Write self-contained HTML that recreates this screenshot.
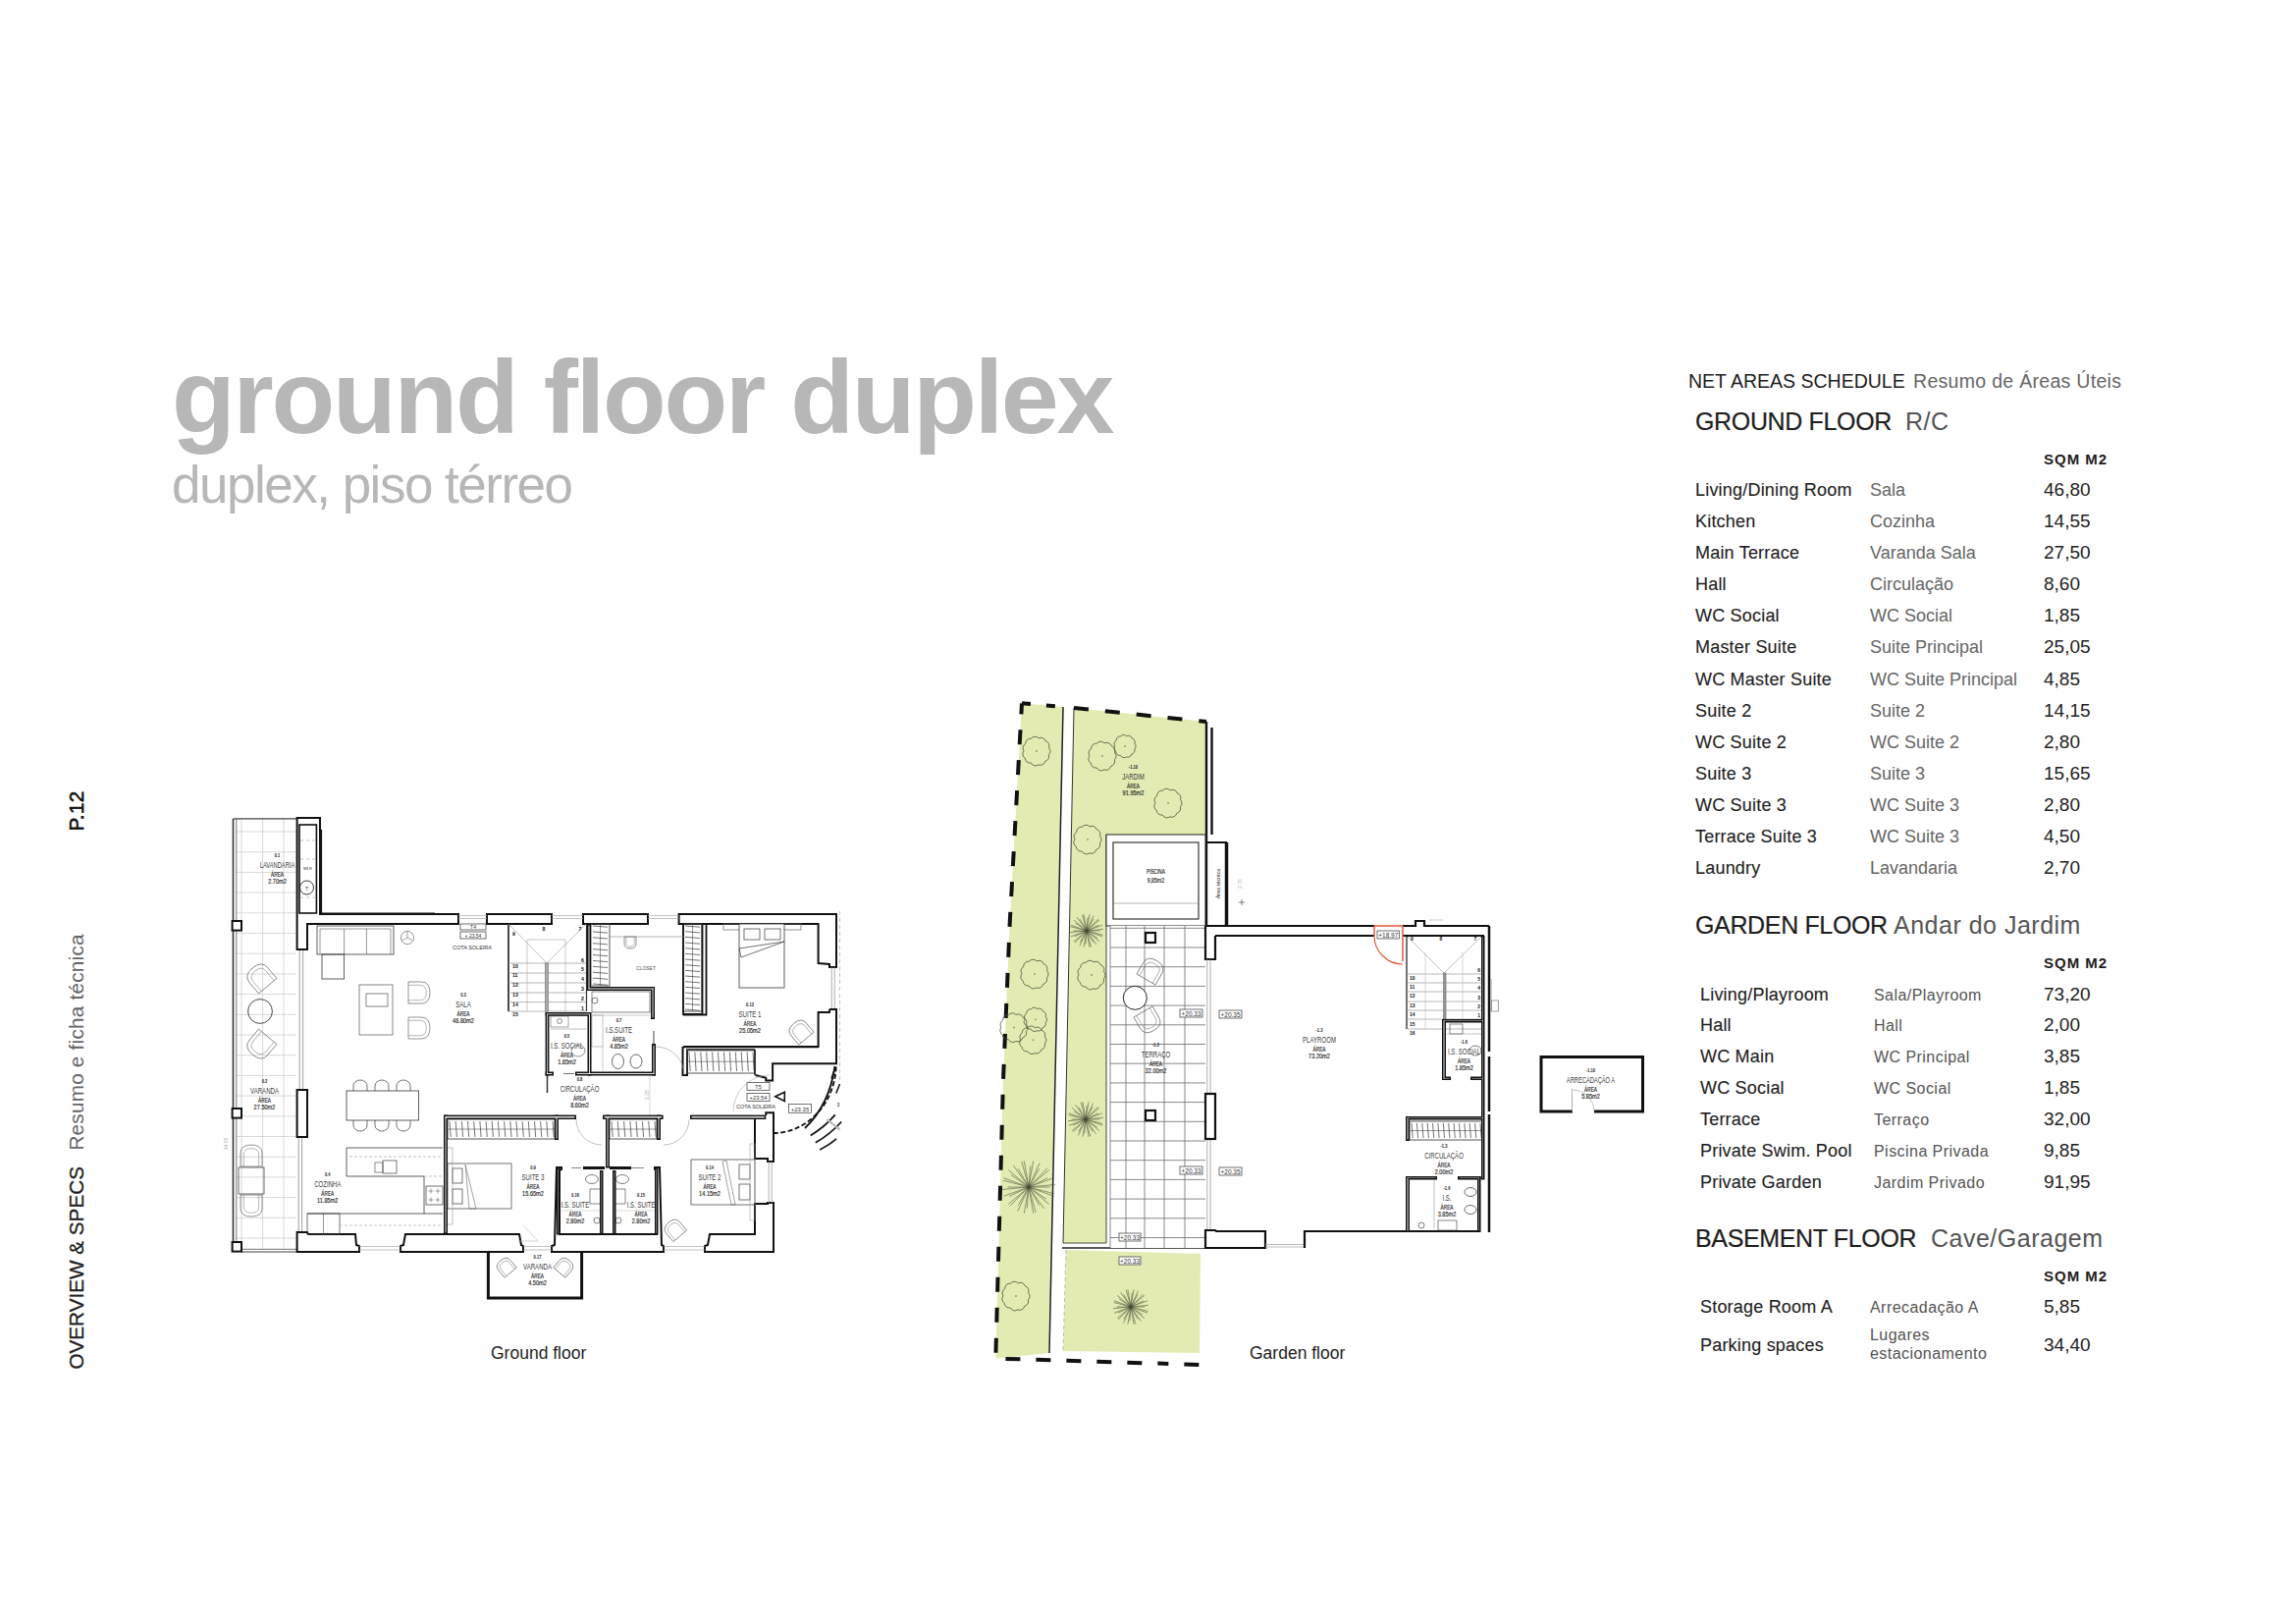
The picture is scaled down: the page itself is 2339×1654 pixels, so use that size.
<!DOCTYPE html>
<html><head><meta charset="utf-8">
<style>
html,body{margin:0;padding:0;background:#fff;width:2339px;height:1654px;overflow:hidden}
svg{position:absolute;left:0;top:0;display:block}
text{font-family:"Liberation Sans",sans-serif}
.en{fill:#1e1e1e;font-size:18px;letter-spacing:0.2px;stroke:#1e1e1e;stroke-width:0.12px}
.pt{fill:#666;font-size:18px}
.ptg{fill:#555;font-size:16px;letter-spacing:0.45px}
.num{fill:#222;font-size:19px}
.sqm{fill:#1e1e1e;font-size:15px;font-weight:bold}
.hd{fill:#1e1e1e;font-size:25px;letter-spacing:-0.35px;stroke:#1e1e1e;stroke-width:0.2px}
.hdp{fill:#555;font-size:25px;letter-spacing:0.5px}
</style></head>
<body>
<svg width="2339" height="1654" viewBox="0 0 2339 1654">
<text x="175" y="441" font-size="106" font-weight="bold" fill="#b7b7b7" letter-spacing="-2.25">ground floor duplex</text>
<text x="175" y="512" font-size="53" fill="#b7b7b7" letter-spacing="-1.5">duplex, piso térreo</text>
<g transform="translate(84.6,1394.6) rotate(-90)">
<text x="0" y="0" font-size="20.7" fill="#1e1e1e" stroke="#1e1e1e" stroke-width="0.3">OVERVIEW &amp; SPECS</text>
<text x="223" y="0" font-size="20.7" fill="#666" letter-spacing="0.24">Resumo e ficha técnica</text>
<text x="548" y="0" font-size="20.7" fill="#111" stroke="#111" stroke-width="0.6" letter-spacing="0.3">P.12</text>
</g>
<text x="500" y="1384" font-size="17.5" fill="#1e1e1e">Ground floor</text>
<text x="1273" y="1384" font-size="17.5" fill="#1e1e1e">Garden floor</text>
<text x="1720" y="395" font-size="19.5" fill="#1e1e1e">NET AREAS SCHEDULE</text>
<text x="1949" y="395" font-size="19.5" fill="#666" letter-spacing="0.3">Resumo de Áreas Úteis</text>
<text x="1727" y="437.7" class="hd">GROUND FLOOR</text>
<text x="1941" y="437.7" class="hdp" letter-spacing="1.5">R/C</text>
<text x="2082" y="473" class="sqm" letter-spacing="1.0">SQM M2</text>
<text x="1727" y="505.0" class="en">Living/Dining Room</text>
<text x="1905" y="505.0" class="pt">Sala</text>
<text x="2082" y="505.0" class="num">46,80</text>
<text x="1727" y="537.1" class="en">Kitchen</text>
<text x="1905" y="537.1" class="pt">Cozinha</text>
<text x="2082" y="537.1" class="num">14,55</text>
<text x="1727" y="569.2" class="en">Main Terrace</text>
<text x="1905" y="569.2" class="pt">Varanda Sala</text>
<text x="2082" y="569.2" class="num">27,50</text>
<text x="1727" y="601.2" class="en">Hall</text>
<text x="1905" y="601.2" class="pt">Circulação</text>
<text x="2082" y="601.2" class="num">8,60</text>
<text x="1727" y="633.3" class="en">WC Social</text>
<text x="1905" y="633.3" class="pt">WC Social</text>
<text x="2082" y="633.3" class="num">1,85</text>
<text x="1727" y="665.4" class="en">Master Suite</text>
<text x="1905" y="665.4" class="pt">Suite Principal</text>
<text x="2082" y="665.4" class="num">25,05</text>
<text x="1727" y="697.5" class="en">WC Master Suite</text>
<text x="1905" y="697.5" class="pt">WC Suite Principal</text>
<text x="2082" y="697.5" class="num">4,85</text>
<text x="1727" y="729.6" class="en">Suite 2</text>
<text x="1905" y="729.6" class="pt">Suite 2</text>
<text x="2082" y="729.6" class="num">14,15</text>
<text x="1727" y="761.6" class="en">WC Suite 2</text>
<text x="1905" y="761.6" class="pt">WC Suite 2</text>
<text x="2082" y="761.6" class="num">2,80</text>
<text x="1727" y="793.7" class="en">Suite 3</text>
<text x="1905" y="793.7" class="pt">Suite 3</text>
<text x="2082" y="793.7" class="num">15,65</text>
<text x="1727" y="825.8" class="en">WC Suite 3</text>
<text x="1905" y="825.8" class="pt">WC Suite 3</text>
<text x="2082" y="825.8" class="num">2,80</text>
<text x="1727" y="857.9" class="en">Terrace Suite 3</text>
<text x="1905" y="857.9" class="pt">WC Suite 3</text>
<text x="2082" y="857.9" class="num">4,50</text>
<text x="1727" y="890.0" class="en">Laundry</text>
<text x="1905" y="890.0" class="pt">Lavandaria</text>
<text x="2082" y="890.0" class="num">2,70</text>
<text x="1727" y="950.8" class="hd">GARDEN FLOOR</text>
<text x="1929" y="950.8" class="hdp">Andar do Jardim</text>
<text x="2082" y="986" class="sqm" letter-spacing="1.0">SQM M2</text>
<text x="1732" y="1018.5" class="en">Living/Playroom</text>
<text x="1909" y="1018.5" class="ptg">Sala/Playroom</text>
<text x="2082" y="1018.5" class="num">73,20</text>
<text x="1732" y="1050.4" class="en">Hall</text>
<text x="1909" y="1050.4" class="ptg">Hall</text>
<text x="2082" y="1050.4" class="num">2,00</text>
<text x="1732" y="1082.2" class="en">WC Main</text>
<text x="1909" y="1082.2" class="ptg">WC Principal</text>
<text x="2082" y="1082.2" class="num">3,85</text>
<text x="1732" y="1114.1" class="en">WC Social</text>
<text x="1909" y="1114.1" class="ptg">WC Social</text>
<text x="2082" y="1114.1" class="num">1,85</text>
<text x="1732" y="1146.0" class="en">Terrace</text>
<text x="1909" y="1146.0" class="ptg">Terraço</text>
<text x="2082" y="1146.0" class="num">32,00</text>
<text x="1732" y="1177.8" class="en">Private Swim. Pool</text>
<text x="1909" y="1177.8" class="ptg">Piscina Privada</text>
<text x="2082" y="1177.8" class="num">9,85</text>
<text x="1732" y="1209.7" class="en">Private Garden</text>
<text x="1909" y="1209.7" class="ptg">Jardim Privado</text>
<text x="2082" y="1209.7" class="num">91,95</text>
<text x="1727" y="1269.5" class="hd">BASEMENT FLOOR</text>
<text x="1967" y="1269.5" class="hdp">Cave/Garagem</text>
<text x="2082" y="1305" class="sqm" letter-spacing="1.0">SQM M2</text>
<text x="1732" y="1337" class="en">Storage Room A</text>
<text x="1905" y="1337" class="ptg">Arrecadação A</text>
<text x="2082" y="1337" class="num">5,85</text>
<text x="1732" y="1376" class="en">Parking spaces</text>
<text x="1905" y="1365" class="ptg">Lugares</text>
<text x="1905" y="1384" class="ptg">estacionamento</text>
<text x="2082" y="1376" class="num">34,40</text>
<g id="plans">
<path d="M246,834 V1272" stroke="#c9c9c9" stroke-width="0.7" fill="none" />
<path d="M267.6,834 V1272" stroke="#c9c9c9" stroke-width="0.7" fill="none" />
<path d="M289,834 V1272" stroke="#c9c9c9" stroke-width="0.7" fill="none" />
<path d="M241,847.0 H302" stroke="#c9c9c9" stroke-width="0.7" fill="none" />
<path d="M241,867.7 H302" stroke="#c9c9c9" stroke-width="0.7" fill="none" />
<path d="M241,888.4 H302" stroke="#c9c9c9" stroke-width="0.7" fill="none" />
<path d="M241,909.1 H302" stroke="#c9c9c9" stroke-width="0.7" fill="none" />
<path d="M241,929.8 H302" stroke="#c9c9c9" stroke-width="0.7" fill="none" />
<path d="M241,950.5 H302" stroke="#c9c9c9" stroke-width="0.7" fill="none" />
<path d="M241,971.2 H302" stroke="#c9c9c9" stroke-width="0.7" fill="none" />
<path d="M241,991.9 H302" stroke="#c9c9c9" stroke-width="0.7" fill="none" />
<path d="M241,1012.6 H302" stroke="#c9c9c9" stroke-width="0.7" fill="none" />
<path d="M241,1033.3 H302" stroke="#c9c9c9" stroke-width="0.7" fill="none" />
<path d="M241,1054.0 H302" stroke="#c9c9c9" stroke-width="0.7" fill="none" />
<path d="M241,1074.7 H302" stroke="#c9c9c9" stroke-width="0.7" fill="none" />
<path d="M241,1095.4 H302" stroke="#c9c9c9" stroke-width="0.7" fill="none" />
<path d="M241,1116.1 H302" stroke="#c9c9c9" stroke-width="0.7" fill="none" />
<path d="M241,1136.8 H302" stroke="#c9c9c9" stroke-width="0.7" fill="none" />
<path d="M241,1157.5 H302" stroke="#c9c9c9" stroke-width="0.7" fill="none" />
<path d="M241,1178.2 H302" stroke="#c9c9c9" stroke-width="0.7" fill="none" />
<path d="M241,1198.9 H302" stroke="#c9c9c9" stroke-width="0.7" fill="none" />
<path d="M241,1219.6 H302" stroke="#c9c9c9" stroke-width="0.7" fill="none" />
<path d="M241,1240.3 H302" stroke="#c9c9c9" stroke-width="0.7" fill="none" />
<path d="M241,1261.0 H302" stroke="#c9c9c9" stroke-width="0.7" fill="none" />
<path d="M237.5,834 V1275" stroke="#333" stroke-width="1.6" fill="none" />
<path d="M240.8,834 V1272" stroke="#505050" stroke-width="0.8" fill="none" />
<path d="M237.5,833.8 H302.6" stroke="#444" stroke-width="1.3" fill="none" />
<path d="M246,1272.3 H302.6" stroke="#505050" stroke-width="0.8" fill="none" />
<path d="M246,1275 H302.6" stroke="#444" stroke-width="1.2" fill="none" />
<rect x="236.6" y="938" width="9.4" height="9.6" stroke="#111" stroke-width="2" fill="#fff" />
<rect x="236.6" y="1129" width="9.4" height="9.6" stroke="#111" stroke-width="2" fill="#fff" />
<rect x="236.6" y="1265" width="9.4" height="9.6" stroke="#111" stroke-width="2" fill="#fff" />
<path d="M305.2,967 V1110 M308.6,967 V1110 M304.2,1158 V1255 M307.6,1158 V1255" stroke="#888" stroke-width="0.8" fill="none" />
<path d="M302.6,833 H326 V931 H467 V941 H313 V967 H302.6 Z" stroke="#111" stroke-width="2.0" fill="#fff" />
<rect x="305" y="840" width="17.4" height="90" stroke="#111" stroke-width="1.6" fill="none" />
<path d="M326.9,845 V931" stroke="#111" stroke-width="2.4" fill="none" />
<path d="M326,930.6 H443" stroke="#111" stroke-width="2.2" fill="none" />
<path d="M306,856 H321" stroke="#999" stroke-width="0.6" fill="none" stroke-dasharray="3,3"/>
<path d="M306,875 H321" stroke="#999" stroke-width="0.6" fill="none" stroke-dasharray="3,3"/>
<path d="M306,914 H321" stroke="#999" stroke-width="0.6" fill="none" stroke-dasharray="3,3"/>
<circle cx="312.5" cy="904" r="7" stroke="#222" stroke-width="0.9" fill="none" />
<text x="312.5" y="906.5" font-size="5" fill="#222" text-anchor="middle" >T</text>
<text x="313.5" y="886" font-size="4" fill="#222" text-anchor="middle" >WLR</text>
<rect x="496" y="931" width="66" height="10" stroke="#111" stroke-width="2.0" fill="#fff" />
<rect x="594" y="931" width="66" height="10" stroke="#111" stroke-width="2.0" fill="#fff" />
<path d="M691.6,931 H852 V985 H845 V982 L833.6,981 V941 H691.6 Z" stroke="#111" stroke-width="2.0" fill="#fff" />
<path d="M467,932.5 H496 M467,935.5 H496" stroke="#aaa" stroke-width="0.7" fill="none" />
<path d="M562,932.5 H594 M562,935.5 H594" stroke="#aaa" stroke-width="0.7" fill="none" />
<path d="M660,932.5 H691.6 M660,935.5 H691.6" stroke="#aaa" stroke-width="0.7" fill="none" />
<rect x="602" y="941" width="19" height="63" stroke="#444" stroke-width="0.9" fill="none" />
<path d="M611.5,941 V1004" stroke="#505050" stroke-width="0.6" fill="none" />
<path d="M604,943.0 L619,944.2" stroke="#383838" stroke-width="0.7" fill="none" />
<path d="M604,948.9 L619,950.1" stroke="#383838" stroke-width="0.7" fill="none" />
<path d="M604,954.8 L619,956.0" stroke="#383838" stroke-width="0.7" fill="none" />
<path d="M604,960.7 L619,961.9" stroke="#383838" stroke-width="0.7" fill="none" />
<path d="M604,966.6 L619,967.8" stroke="#383838" stroke-width="0.7" fill="none" />
<path d="M604,972.5 L619,973.7" stroke="#383838" stroke-width="0.7" fill="none" />
<path d="M604,978.4 L619,979.6" stroke="#383838" stroke-width="0.7" fill="none" />
<path d="M604,984.3 L619,985.5" stroke="#383838" stroke-width="0.7" fill="none" />
<path d="M604,990.2 L619,991.4" stroke="#383838" stroke-width="0.7" fill="none" />
<path d="M604,996.1 L619,997.3" stroke="#383838" stroke-width="0.7" fill="none" />
<path d="M604,1002.0 L619,1003.2" stroke="#383838" stroke-width="0.7" fill="none" />
<rect x="696" y="941" width="19" height="89" stroke="#444" stroke-width="0.9" fill="none" />
<path d="M705.5,941 V1030" stroke="#505050" stroke-width="0.6" fill="none" />
<path d="M698,943.0 L713,944.2" stroke="#383838" stroke-width="0.7" fill="none" />
<path d="M698,948.7 L713,949.9" stroke="#383838" stroke-width="0.7" fill="none" />
<path d="M698,954.3 L713,955.5" stroke="#383838" stroke-width="0.7" fill="none" />
<path d="M698,960.0 L713,961.2" stroke="#383838" stroke-width="0.7" fill="none" />
<path d="M698,965.7 L713,966.9" stroke="#383838" stroke-width="0.7" fill="none" />
<path d="M698,971.3 L713,972.5" stroke="#383838" stroke-width="0.7" fill="none" />
<path d="M698,977.0 L713,978.2" stroke="#383838" stroke-width="0.7" fill="none" />
<path d="M698,982.7 L713,983.9" stroke="#383838" stroke-width="0.7" fill="none" />
<path d="M698,988.3 L713,989.5" stroke="#383838" stroke-width="0.7" fill="none" />
<path d="M698,994.0 L713,995.2" stroke="#383838" stroke-width="0.7" fill="none" />
<path d="M698,999.7 L713,1000.9" stroke="#383838" stroke-width="0.7" fill="none" />
<path d="M698,1005.3 L713,1006.5" stroke="#383838" stroke-width="0.7" fill="none" />
<path d="M698,1011.0 L713,1012.2" stroke="#383838" stroke-width="0.7" fill="none" />
<path d="M698,1016.7 L713,1017.9" stroke="#383838" stroke-width="0.7" fill="none" />
<path d="M698,1022.3 L713,1023.5" stroke="#383838" stroke-width="0.7" fill="none" />
<path d="M698,1028.0 L713,1029.2" stroke="#383838" stroke-width="0.7" fill="none" />
<path d="M715.5,941 V1033 H696 V941 M719.5,941 V1033.5 H696" stroke="#111" stroke-width="1.8" fill="none" />
<path d="M621,954 H696" stroke="#999" stroke-width="0.7" fill="none" />
<g transform="translate(642,960) rotate(180)">
<path d="M-6.0,6.0 V-1.2000000000000002 Q-6.0,-6.0 0,-6.0 Q6.0,-6.0 6.0,-1.2000000000000002 V6.0 Z" stroke="#666" stroke-width="0.7" fill="none" />
<path d="M-4.199999999999999,6.0 V-0.6000000000000001 Q-4.199999999999999,-3.96 0,-3.96 Q4.199999999999999,-3.96 4.199999999999999,-0.6000000000000001 V6.0" stroke="#888" stroke-width="0.6" fill="none" />
</g>
<text x="658" y="988" font-size="5" fill="#555" text-anchor="middle" >CLOSET</text>
<path d="M666,1050 V1063" stroke="#333" stroke-width="0.9" fill="none" />
<rect x="603" y="1010" width="59" height="21" stroke="#505050" stroke-width="0.7" fill="none" />
<circle cx="606" cy="1019" r="3" stroke="#444" stroke-width="0.7" fill="none" />
<path d="M603,1034 H662" stroke="#aaa" stroke-width="0.6" fill="none" />
<rect x="603" y="1034" width="11" height="32" stroke="#999" stroke-width="0.6" fill="none" />
<path d="M614,1066 V1091" stroke="#aaa" stroke-width="0.6" fill="none" />
<ellipse cx="629.5" cy="1081" rx="6" ry="7.5" fill="none" stroke="#444" stroke-width="0.8"/>
<ellipse cx="648" cy="1081" rx="6" ry="7" fill="none" stroke="#444" stroke-width="0.8"/>
<text transform="translate(630.5 1040.5) scale(0.85 1)" x="0" y="0" font-size="4.8" fill="#222" text-anchor="middle" font-weight="bold">0.7</text>
<text transform="translate(630.5 1052) scale(0.74 1)" x="0" y="0" font-size="8.2" fill="#3a3a3a" text-anchor="middle" >I.S.SUITE</text>
<text transform="translate(630.5 1060.5) scale(0.72 1)" x="0" y="0" font-size="6.6" fill="#222" text-anchor="middle" stroke="#222" stroke-width="0.15">ÁREA</text>
<text transform="translate(630.5 1067.5) scale(0.85 1)" x="0" y="0" font-size="6.6" fill="#222" text-anchor="middle" stroke="#222" stroke-width="0.15">4.85m2</text>
<path d="M557.5,1095 V1113" stroke="#333" stroke-width="1.5" fill="none" />
<path d="M574,1093.5 H585" stroke="#505050" stroke-width="0.8" fill="none" />
<rect x="561" y="1035" width="18" height="11" stroke="#666" stroke-width="0.6" fill="none" />
<circle cx="570" cy="1040" r="2.5" stroke="#444" stroke-width="0.6" fill="none" />
<path d="M561,1048 H598" stroke="#999" stroke-width="0.6" fill="none" />
<ellipse cx="589" cy="1070" rx="7" ry="6" fill="none" stroke="#666" stroke-width="0.7"/>
<text transform="translate(577.5 1056.5) scale(0.85 1)" x="0" y="0" font-size="4.8" fill="#222" text-anchor="middle" font-weight="bold">0.5</text>
<text transform="translate(577.5 1068) scale(0.74 1)" x="0" y="0" font-size="8.2" fill="#3a3a3a" text-anchor="middle" >I.S. SOCIAL</text>
<text transform="translate(577.5 1076.5) scale(0.72 1)" x="0" y="0" font-size="6.6" fill="#222" text-anchor="middle" stroke="#222" stroke-width="0.15">ÁREA</text>
<text transform="translate(577.5 1083.5) scale(0.85 1)" x="0" y="0" font-size="6.6" fill="#222" text-anchor="middle" stroke="#222" stroke-width="0.15">1.85m2</text>
<path d="M518,941 V1030" stroke="#333" stroke-width="1.8" fill="none" />
<path d="M518,981 H597" stroke="#999" stroke-width="0.7" fill="none" />
<path d="M518,991 H597" stroke="#999" stroke-width="0.7" fill="none" />
<path d="M518,1001 H597" stroke="#999" stroke-width="0.7" fill="none" />
<path d="M518,1011 H597" stroke="#999" stroke-width="0.7" fill="none" />
<path d="M518,1020.6 H597" stroke="#999" stroke-width="0.7" fill="none" />
<path d="M518,1030 H597" stroke="#999" stroke-width="0.7" fill="none" />
<path d="M537,957 V1030" stroke="#aaa" stroke-width="0.6" fill="none" />
<path d="M576,957 V1030" stroke="#aaa" stroke-width="0.6" fill="none" />
<path d="M537,957 H576" stroke="#aaa" stroke-width="0.6" fill="none" />
<path d="M518,941 L557,981 L597,941" stroke="#999" stroke-width="0.6" fill="none" />
<rect x="555.5" y="981" width="3.0" height="49" stroke="#666" stroke-width="0.6" fill="#aaa" />
<path d="M597.5,941 V1030" stroke="#333" stroke-width="1.2" fill="none" />
<text x="522" y="985.5" font-size="5.2" fill="#111" text-anchor="start" font-weight="bold">10</text>
<text x="522" y="995.3" font-size="5.2" fill="#111" text-anchor="start" font-weight="bold">11</text>
<text x="522" y="1005.1" font-size="5.2" fill="#111" text-anchor="start" font-weight="bold">12</text>
<text x="522" y="1014.9" font-size="5.2" fill="#111" text-anchor="start" font-weight="bold">13</text>
<text x="522" y="1024.7" font-size="5.2" fill="#111" text-anchor="start" font-weight="bold">14</text>
<text x="522" y="1034.5" font-size="5.2" fill="#111" text-anchor="start" font-weight="bold">15</text>
<text x="595" y="979.5" font-size="5.2" fill="#111" text-anchor="end" font-weight="bold">6</text>
<text x="595" y="989.3" font-size="5.2" fill="#111" text-anchor="end" font-weight="bold">5</text>
<text x="595" y="999.1" font-size="5.2" fill="#111" text-anchor="end" font-weight="bold">4</text>
<text x="595" y="1008.9" font-size="5.2" fill="#111" text-anchor="end" font-weight="bold">3</text>
<text x="595" y="1018.7" font-size="5.2" fill="#111" text-anchor="end" font-weight="bold">2</text>
<text x="595" y="1028.5" font-size="5.2" fill="#111" text-anchor="end" font-weight="bold">1</text>
<text x="522" y="953" font-size="5.2" fill="#111" text-anchor="start" font-weight="bold">9</text>
<text x="554" y="948" font-size="5.2" fill="#111" text-anchor="middle" font-weight="bold">8</text>
<text x="591" y="948" font-size="5.2" fill="#111" text-anchor="middle" font-weight="bold">7</text>
<rect x="469" y="941" width="26" height="6" stroke="#333" stroke-width="0.7" fill="none" />
<text x="482" y="946.3" font-size="5" fill="#333" text-anchor="middle" >T4</text>
<rect x="469" y="949" width="26" height="7" stroke="#333" stroke-width="0.7" fill="none" />
<text x="482" y="955" font-size="5" fill="#333" text-anchor="middle" >+ 23.54</text>
<text x="481" y="967" font-size="5.5" fill="#333" text-anchor="middle" >COTA SOLEIRA</text>
<path d="M847.2,985 V1028 M850.2,985 V1028" stroke="#999" stroke-width="0.8" fill="none" />
<path d="M845,1028 H852 V1083.3 H787.1 V1100.5 H780.3 V1097.8 L769.5,1095" stroke="#111" stroke-width="2.0" fill="none" />
<path d="M845,1028 V1031 H833.6 V1066 H696" stroke="#111" stroke-width="2.0" fill="none" />
<path d="M695.5,1066 V1095 H700 V1069.3 H769" stroke="#111" stroke-width="2" fill="none" />
<path d="M696,1066.3 H833.6" stroke="#111" stroke-width="2" fill="none" />
<path d="M855.5,928 V1100" stroke="#999" stroke-width="0.6" fill="none" stroke-dasharray="4,3"/>
<rect x="700" y="1069.5" width="69" height="23.5" stroke="#444" stroke-width="0.9" fill="none" />
<path d="M700,1081.2 H769" stroke="#505050" stroke-width="0.6" fill="none" />
<path d="M702.0,1071.5 L703.2,1091" stroke="#383838" stroke-width="0.7" fill="none" />
<path d="M707.9,1071.5 L709.1,1091" stroke="#383838" stroke-width="0.7" fill="none" />
<path d="M713.8,1071.5 L715.0,1091" stroke="#383838" stroke-width="0.7" fill="none" />
<path d="M719.7,1071.5 L720.9,1091" stroke="#383838" stroke-width="0.7" fill="none" />
<path d="M725.6,1071.5 L726.8,1091" stroke="#383838" stroke-width="0.7" fill="none" />
<path d="M731.5,1071.5 L732.7,1091" stroke="#383838" stroke-width="0.7" fill="none" />
<path d="M737.5,1071.5 L738.7,1091" stroke="#383838" stroke-width="0.7" fill="none" />
<path d="M743.4,1071.5 L744.6,1091" stroke="#383838" stroke-width="0.7" fill="none" />
<path d="M749.3,1071.5 L750.5,1091" stroke="#383838" stroke-width="0.7" fill="none" />
<path d="M755.2,1071.5 L756.4,1091" stroke="#383838" stroke-width="0.7" fill="none" />
<path d="M761.1,1071.5 L762.3,1091" stroke="#383838" stroke-width="0.7" fill="none" />
<path d="M767.0,1071.5 L768.2,1091" stroke="#383838" stroke-width="0.7" fill="none" />
<path d="M769,1069 V1095" stroke="#111" stroke-width="1.5" fill="none" />
<rect x="737" y="941" width="79" height="6" stroke="#666" stroke-width="0.7" fill="none" />
<rect x="753" y="941" width="46" height="65" stroke="#383838" stroke-width="0.8" fill="#fff" />
<rect x="758" y="946" width="16" height="11" stroke="#383838" stroke-width="0.7" fill="none" />
<rect x="779" y="946" width="16" height="11" stroke="#383838" stroke-width="0.7" fill="none" />
<path d="M753,966 L799,959 M753,966 L755,975 L799,959" stroke="#383838" stroke-width="0.7" fill="none" />
<g transform="translate(815,1050) rotate(-40)">
<path d="M-10.0,10.0 V-2.0 Q-10.0,-10.0 0,-10.0 Q10.0,-10.0 10.0,-2.0 V10.0 Z" stroke="#666" stroke-width="0.7" fill="none" />
<path d="M-7.0,10.0 V-1.0 Q-7.0,-6.6000000000000005 0,-6.6000000000000005 Q7.0,-6.6000000000000005 7.0,-1.0 V10.0" stroke="#888" stroke-width="0.6" fill="none" />
</g>
<text transform="translate(764 1024.5) scale(0.85 1)" x="0" y="0" font-size="4.8" fill="#222" text-anchor="middle" font-weight="bold">0.12</text>
<text transform="translate(764 1036) scale(0.74 1)" x="0" y="0" font-size="8.2" fill="#3a3a3a" text-anchor="middle" >SUITE 1</text>
<text transform="translate(764 1044.5) scale(0.72 1)" x="0" y="0" font-size="6.6" fill="#222" text-anchor="middle" stroke="#222" stroke-width="0.15">ÁREA</text>
<text transform="translate(764 1051.5) scale(0.85 1)" x="0" y="0" font-size="6.6" fill="#222" text-anchor="middle" stroke="#222" stroke-width="0.15">25.05m2</text>
<path d="M787.8,1154 A64,70.5 0 0 0 851.8,1083.5" stroke="#111" stroke-width="1.8" fill="none" stroke-dasharray="5,2.5"/>
<path d="M820,1149 Q845,1125 850.5,1086" stroke="#111" stroke-width="1.8" fill="none" />
<path d="M847,1098.5 L850.8,1087.6 M851.8,1113.4 L855.5,1103.9" stroke="#111" stroke-width="1.5" fill="none" />
<path d="M825.7,1156.4 Q840,1148 850.8,1135.4" stroke="#111" stroke-width="1.7" fill="none" />
<path d="M830.8,1163.8 Q846,1155 857.2,1142.5" stroke="#111" stroke-width="1.7" fill="none" />
<path d="M835.2,1171 Q845,1166 852.1,1159.8" stroke="#111" stroke-width="1.7" fill="none" />
<path d="M842.3,1139.8 L855.5,1150.6" stroke="#bbb" stroke-width="2.2" fill="none" />
<text x="854" y="1127" font-size="5" fill="#111" text-anchor="middle" >3</text>
<path d="M789.8,1116.7 L799.3,1112.3 L799.3,1121.5 Z" fill="#fff" stroke="#111" stroke-width="1.6"/>
<rect x="761" y="1102.5" width="23" height="7.8" stroke="#333" stroke-width="0.7" fill="none" />
<text x="772.5" y="1109" font-size="5.5" fill="#333" text-anchor="middle" >T5</text>
<rect x="761" y="1113.4" width="23" height="8.1" stroke="#333" stroke-width="0.7" fill="none" />
<text x="772.5" y="1120" font-size="5.8" fill="#333" text-anchor="middle" >+23.54</text>
<text x="770" y="1129" font-size="5.5" fill="#333" text-anchor="middle" >COTA  SOLEIRA</text>
<rect x="803.4" y="1124.5" width="23.0" height="8.8" stroke="#383838" stroke-width="0.7" fill="none" />
<text x="815" y="1131.5" font-size="6" fill="#333" text-anchor="middle" >+23.35</text>
<path d="M747.0,1132.0 A37,37 0 0 1 784.0,1095.0" stroke="#aaa" stroke-width="0.6" fill="none" />
<rect x="456" y="1140" width="109" height="20" stroke="#444" stroke-width="0.9" fill="none" />
<path d="M456,1150.0 H565" stroke="#505050" stroke-width="0.6" fill="none" />
<path d="M458.0,1142 L459.2,1158" stroke="#383838" stroke-width="0.7" fill="none" />
<path d="M464.2,1142 L465.4,1158" stroke="#383838" stroke-width="0.7" fill="none" />
<path d="M470.4,1142 L471.6,1158" stroke="#383838" stroke-width="0.7" fill="none" />
<path d="M476.5,1142 L477.7,1158" stroke="#383838" stroke-width="0.7" fill="none" />
<path d="M482.7,1142 L483.9,1158" stroke="#383838" stroke-width="0.7" fill="none" />
<path d="M488.9,1142 L490.1,1158" stroke="#383838" stroke-width="0.7" fill="none" />
<path d="M495.1,1142 L496.3,1158" stroke="#383838" stroke-width="0.7" fill="none" />
<path d="M501.2,1142 L502.4,1158" stroke="#383838" stroke-width="0.7" fill="none" />
<path d="M507.4,1142 L508.6,1158" stroke="#383838" stroke-width="0.7" fill="none" />
<path d="M513.6,1142 L514.8,1158" stroke="#383838" stroke-width="0.7" fill="none" />
<path d="M519.8,1142 L521.0,1158" stroke="#383838" stroke-width="0.7" fill="none" />
<path d="M525.9,1142 L527.1,1158" stroke="#383838" stroke-width="0.7" fill="none" />
<path d="M532.1,1142 L533.3,1158" stroke="#383838" stroke-width="0.7" fill="none" />
<path d="M538.3,1142 L539.5,1158" stroke="#383838" stroke-width="0.7" fill="none" />
<path d="M544.5,1142 L545.7,1158" stroke="#383838" stroke-width="0.7" fill="none" />
<path d="M550.6,1142 L551.8,1158" stroke="#383838" stroke-width="0.7" fill="none" />
<path d="M556.8,1142 L558.0,1158" stroke="#383838" stroke-width="0.7" fill="none" />
<path d="M563.0,1142 L564.2,1158" stroke="#383838" stroke-width="0.7" fill="none" />
<rect x="621" y="1140" width="48" height="20" stroke="#444" stroke-width="0.9" fill="none" />
<path d="M621,1150.0 H669" stroke="#505050" stroke-width="0.6" fill="none" />
<path d="M623.0,1142 L624.2,1158" stroke="#383838" stroke-width="0.7" fill="none" />
<path d="M629.3,1142 L630.5,1158" stroke="#383838" stroke-width="0.7" fill="none" />
<path d="M635.6,1142 L636.8,1158" stroke="#383838" stroke-width="0.7" fill="none" />
<path d="M641.9,1142 L643.1,1158" stroke="#383838" stroke-width="0.7" fill="none" />
<path d="M648.1,1142 L649.3,1158" stroke="#383838" stroke-width="0.7" fill="none" />
<path d="M654.4,1142 L655.6,1158" stroke="#383838" stroke-width="0.7" fill="none" />
<path d="M660.7,1142 L661.9,1158" stroke="#383838" stroke-width="0.7" fill="none" />
<path d="M667.0,1142 L668.2,1158" stroke="#383838" stroke-width="0.7" fill="none" />
<path d="M769,1140 V1180 H782 V1183 H788 V1133.3 H780.3 V1136" stroke="#111" stroke-width="2.0" fill="none" />
<path d="M587.0,1140.0 A26,26 0 0 0 613.0,1166.0" stroke="#999" stroke-width="0.6" fill="none" />
<path d="M676.0,1166.0 A26,26 0 0 0 702.0,1140.0" stroke="#999" stroke-width="0.6" fill="none" />
<path d="M668.0,1066.0 A29,29 0 0 1 697.0,1095.0" stroke="#999" stroke-width="0.6" fill="none" />
<path d="M662,1095 V1136" stroke="#bbb" stroke-width="0.5" fill="none" />
<path d="M302.6,1255 H313 L314,1257 H362 L363,1268 L366,1269 V1275 H302.6 Z" stroke="#111" stroke-width="2.0" fill="#fff" />
<path d="M408,1275 V1269 L411,1268 L413,1257 H529 L531,1268 L533,1269 V1275 Z" stroke="#111" stroke-width="2.0" fill="#fff" />
<path d="M562,1275 V1269 L565,1268 L567,1189 H572 V1191 L570,1192 V1257 H669 V1192 L667,1191 V1189 H672 L674,1268 L676,1269 V1275 Z" stroke="#111" stroke-width="2.0" fill="#fff" />
<path d="M718,1275 V1269 L721,1268 L723,1257 H769 V1226 H782 V1225 H788 V1275 Z" stroke="#111" stroke-width="2.0" fill="#fff" />
<path d="M783.2,1183 V1225 M786.2,1183 V1225" stroke="#999" stroke-width="0.8" fill="none" />
<path d="M366,1269.5 H408 M366,1273 H408" stroke="#aaa" stroke-width="0.7" fill="none" />
<path d="M533,1269.5 H562 M533,1273 H562" stroke="#aaa" stroke-width="0.7" fill="none" />
<path d="M676,1269.5 H718 M676,1273 H718" stroke="#aaa" stroke-width="0.7" fill="none" />
<path d="M582,1189.5 H592 M639,1189.5 H656" stroke="#666" stroke-width="0.8" fill="none" />
<path d="M594,1189.5 H616 M621,1189.5 H643" stroke="#111" stroke-width="3" fill="none" />
<path d="M497.4,1275 V1322 H592.6 V1275" stroke="#111" stroke-width="3" fill="none" />
<g transform="translate(515,1290) rotate(-40)">
<path d="M-8.0,8.0 V-1.6 Q-8.0,-8.0 0,-8.0 Q8.0,-8.0 8.0,-1.6 V8.0 Z" stroke="#666" stroke-width="0.7" fill="none" />
<path d="M-5.6,8.0 V-0.8 Q-5.6,-5.28 0,-5.28 Q5.6,-5.28 5.6,-0.8 V8.0" stroke="#888" stroke-width="0.6" fill="none" />
</g>
<g transform="translate(575,1290) rotate(40)">
<path d="M-8.0,8.0 V-1.6 Q-8.0,-8.0 0,-8.0 Q8.0,-8.0 8.0,-1.6 V8.0 Z" stroke="#666" stroke-width="0.7" fill="none" />
<path d="M-5.6,8.0 V-0.8 Q-5.6,-5.28 0,-5.28 Q5.6,-5.28 5.6,-0.8 V8.0" stroke="#888" stroke-width="0.6" fill="none" />
</g>
<text transform="translate(547.5 1281.5) scale(0.85 1)" x="0" y="0" font-size="4.8" fill="#222" text-anchor="middle" font-weight="bold">0.17</text>
<text transform="translate(547.5 1293) scale(0.74 1)" x="0" y="0" font-size="8.2" fill="#3a3a3a" text-anchor="middle" >VARANDA</text>
<text transform="translate(547.5 1301.5) scale(0.72 1)" x="0" y="0" font-size="6.6" fill="#222" text-anchor="middle" stroke="#222" stroke-width="0.15">ÁREA</text>
<text transform="translate(547.5 1308.5) scale(0.85 1)" x="0" y="0" font-size="6.6" fill="#222" text-anchor="middle" stroke="#222" stroke-width="0.15">4.50m2</text>
<rect x="302.6" y="1110" width="10.4" height="48" stroke="#111" stroke-width="2.0" fill="#fff" />
<rect x="323" y="943" width="78" height="29" stroke="#383838" stroke-width="0.8" fill="none" />
<path d="M350.6,946 V972 M373.4,946 V972 M326,946 H398 M326,946 V972 M398,946 V972" stroke="#505050" stroke-width="0.6" fill="none" />
<rect x="328" y="972" width="22.6" height="25" stroke="#383838" stroke-width="0.8" fill="none" />
<circle cx="415" cy="955" r="6.6" stroke="#666" stroke-width="0.7" fill="none" />
<path d="M415,949 V955 L409.5,958 M415,955 L420.5,958" stroke="#666" stroke-width="0.6" fill="none" />
<rect x="366" y="1003" width="34" height="51" stroke="#505050" stroke-width="0.7" fill="none" />
<rect x="373" y="1012" width="22" height="13" stroke="#505050" stroke-width="0.7" fill="none" />
<g transform="translate(427,1011) rotate(90)">
<path d="M-11.0,11.0 V-2.2 Q-11.0,-11.0 0,-11.0 Q11.0,-11.0 11.0,-2.2 V11.0 Z" stroke="#666" stroke-width="0.7" fill="none" />
<path d="M-7.699999999999999,11.0 V-1.1 Q-7.699999999999999,-7.260000000000001 0,-7.260000000000001 Q7.699999999999999,-7.260000000000001 7.699999999999999,-1.1 V11.0" stroke="#888" stroke-width="0.6" fill="none" />
</g>
<g transform="translate(427,1047) rotate(90)">
<path d="M-11.0,11.0 V-2.2 Q-11.0,-11.0 0,-11.0 Q11.0,-11.0 11.0,-2.2 V11.0 Z" stroke="#666" stroke-width="0.7" fill="none" />
<path d="M-7.699999999999999,11.0 V-1.1 Q-7.699999999999999,-7.260000000000001 0,-7.260000000000001 Q7.699999999999999,-7.260000000000001 7.699999999999999,-1.1 V11.0" stroke="#888" stroke-width="0.6" fill="none" />
</g>
<text transform="translate(472 1014.5) scale(0.85 1)" x="0" y="0" font-size="4.8" fill="#222" text-anchor="middle" font-weight="bold">0.3</text>
<text transform="translate(472 1026) scale(0.74 1)" x="0" y="0" font-size="8.2" fill="#3a3a3a" text-anchor="middle" >SALA</text>
<text transform="translate(472 1034.5) scale(0.72 1)" x="0" y="0" font-size="6.6" fill="#222" text-anchor="middle" stroke="#222" stroke-width="0.15">ÁREA</text>
<text transform="translate(472 1041.5) scale(0.85 1)" x="0" y="0" font-size="6.6" fill="#222" text-anchor="middle" stroke="#222" stroke-width="0.15">46.80m2</text>
<rect x="353" y="1111" width="73.6" height="30" stroke="#383838" stroke-width="0.8" fill="none" />
<path d="M360,1111 V1106 A7,6 0 0 1 374,1106 V1111" stroke="#383838" stroke-width="0.7" fill="none" />
<path d="M360,1141 V1146 A7,6 0 0 0 374,1146 V1141" stroke="#383838" stroke-width="0.7" fill="none" />
<path d="M382,1111 V1106 A7,6 0 0 1 396,1106 V1111" stroke="#383838" stroke-width="0.7" fill="none" />
<path d="M382,1141 V1146 A7,6 0 0 0 396,1146 V1141" stroke="#383838" stroke-width="0.7" fill="none" />
<path d="M404,1111 V1106 A7,6 0 0 1 418,1106 V1111" stroke="#383838" stroke-width="0.7" fill="none" />
<path d="M404,1141 V1146 A7,6 0 0 0 418,1146 V1141" stroke="#383838" stroke-width="0.7" fill="none" />
<path d="M353,1169 H451 M353,1169 V1198 H432 V1236" stroke="#383838" stroke-width="0.8" fill="none" />
<path d="M356,1178 H449 M432,1198 H450" stroke="#999" stroke-width="0.6" fill="none" stroke-dasharray="3,2"/>
<rect x="390" y="1182" width="14" height="13" stroke="#444" stroke-width="0.7" fill="none" />
<rect x="382" y="1184" width="8" height="10" stroke="#444" stroke-width="0.6" fill="none" />
<rect x="434" y="1208" width="17" height="19" stroke="#383838" stroke-width="0.7" fill="none" />
<path d="M436.5,1213 H441.5 M439,1210.5 V1215.5" stroke="#444" stroke-width="0.5" fill="none" />
<path d="M436.5,1222 H441.5 M439,1219.5 V1224.5" stroke="#444" stroke-width="0.5" fill="none" />
<path d="M443.5,1213 H448.5 M446,1210.5 V1215.5" stroke="#444" stroke-width="0.5" fill="none" />
<path d="M443.5,1222 H448.5 M446,1219.5 V1224.5" stroke="#444" stroke-width="0.5" fill="none" />
<path d="M313,1236 H451" stroke="#383838" stroke-width="0.8" fill="none" />
<rect x="313" y="1236" width="33" height="21" stroke="#383838" stroke-width="0.7" fill="none" />
<path d="M329.5,1236 V1257" stroke="#505050" stroke-width="0.6" fill="none" />
<path d="M346,1248 H451" stroke="#aaa" stroke-width="0.6" fill="none" stroke-dasharray="3,2"/>
<text transform="translate(333.8 1197.5) scale(0.85 1)" x="0" y="0" font-size="4.8" fill="#222" text-anchor="middle" font-weight="bold">0.4</text>
<text transform="translate(333.8 1209) scale(0.74 1)" x="0" y="0" font-size="8.2" fill="#3a3a3a" text-anchor="middle" >COZINHA</text>
<text transform="translate(333.8 1217.5) scale(0.72 1)" x="0" y="0" font-size="6.6" fill="#222" text-anchor="middle" stroke="#222" stroke-width="0.15">ÁREA</text>
<text transform="translate(333.8 1224.5) scale(0.85 1)" x="0" y="0" font-size="6.6" fill="#222" text-anchor="middle" stroke="#222" stroke-width="0.15">11.85m2</text>
<g transform="translate(265,995) rotate(-40)">
<path d="M-12.0,12.0 V-2.4000000000000004 Q-12.0,-12.0 0,-12.0 Q12.0,-12.0 12.0,-2.4000000000000004 V12.0 Z" stroke="#666" stroke-width="0.7" fill="none" />
<path d="M-8.399999999999999,12.0 V-1.2000000000000002 Q-8.399999999999999,-7.92 0,-7.92 Q8.399999999999999,-7.92 8.399999999999999,-1.2000000000000002 V12.0" stroke="#888" stroke-width="0.6" fill="none" />
</g>
<circle cx="265" cy="1030" r="12.4" stroke="#333" stroke-width="0.9" fill="none" />
<g transform="translate(265,1065) rotate(-140)">
<path d="M-12.0,12.0 V-2.4000000000000004 Q-12.0,-12.0 0,-12.0 Q12.0,-12.0 12.0,-2.4000000000000004 V12.0 Z" stroke="#666" stroke-width="0.7" fill="none" />
<path d="M-8.399999999999999,12.0 V-1.2000000000000002 Q-8.399999999999999,-7.92 0,-7.92 Q8.399999999999999,-7.92 8.399999999999999,-1.2000000000000002 V12.0" stroke="#888" stroke-width="0.6" fill="none" />
</g>
<rect x="243" y="1189" width="26" height="27" stroke="#444" stroke-width="0.8" fill="none" />
<g transform="translate(256,1177) rotate(0)">
<path d="M-11.0,11.0 V-2.2 Q-11.0,-11.0 0,-11.0 Q11.0,-11.0 11.0,-2.2 V11.0 Z" stroke="#666" stroke-width="0.7" fill="none" />
<path d="M-7.699999999999999,11.0 V-1.1 Q-7.699999999999999,-7.260000000000001 0,-7.260000000000001 Q7.699999999999999,-7.260000000000001 7.699999999999999,-1.1 V11.0" stroke="#888" stroke-width="0.6" fill="none" />
</g>
<g transform="translate(256,1228) rotate(180)">
<path d="M-11.0,11.0 V-2.2 Q-11.0,-11.0 0,-11.0 Q11.0,-11.0 11.0,-2.2 V11.0 Z" stroke="#666" stroke-width="0.7" fill="none" />
<path d="M-7.699999999999999,11.0 V-1.1 Q-7.699999999999999,-7.260000000000001 0,-7.260000000000001 Q7.699999999999999,-7.260000000000001 7.699999999999999,-1.1 V11.0" stroke="#888" stroke-width="0.6" fill="none" />
</g>
<text transform="translate(282.5 872.5) scale(0.85 1)" x="0" y="0" font-size="4.8" fill="#222" text-anchor="middle" font-weight="bold">0.1</text>
<text transform="translate(282.5 884) scale(0.7 1)" x="0" y="0" font-size="8.2" fill="#3a3a3a" text-anchor="middle" >LAVANDARIA</text>
<text transform="translate(282.5 892.5) scale(0.72 1)" x="0" y="0" font-size="6.6" fill="#222" text-anchor="middle" stroke="#222" stroke-width="0.15">ÁREA</text>
<text transform="translate(282.5 899.5) scale(0.85 1)" x="0" y="0" font-size="6.6" fill="#222" text-anchor="middle" stroke="#222" stroke-width="0.15">2.70m2</text>
<text transform="translate(269.5 1102.5) scale(0.85 1)" x="0" y="0" font-size="4.8" fill="#222" text-anchor="middle" font-weight="bold">0.2</text>
<text transform="translate(269.5 1114) scale(0.74 1)" x="0" y="0" font-size="8.2" fill="#3a3a3a" text-anchor="middle" >VARANDA</text>
<text transform="translate(269.5 1122.5) scale(0.72 1)" x="0" y="0" font-size="6.6" fill="#222" text-anchor="middle" stroke="#222" stroke-width="0.15">ÁREA</text>
<text transform="translate(269.5 1129.5) scale(0.85 1)" x="0" y="0" font-size="6.6" fill="#222" text-anchor="middle" stroke="#222" stroke-width="0.15">27.50m2</text>
<text x="232" y="1165" font-size="5" fill="#aaa" text-anchor="middle" transform="rotate(-90 232 1165)">14.05</text>
<rect x="456" y="1185" width="65" height="46" stroke="#383838" stroke-width="0.7" fill="none" />
<rect x="461" y="1190" width="10" height="15" stroke="#383838" stroke-width="0.7" fill="none" />
<rect x="461" y="1211" width="10" height="15" stroke="#383838" stroke-width="0.7" fill="none" />
<path d="M474,1186 L485,1231 L478,1231 Z" stroke="#666" stroke-width="0.6" fill="none" />
<path d="M456,1169 H461 V1247 H456" stroke="#999" stroke-width="0.6" fill="none" />
<path d="M533,1248 L548,1264 H528" stroke="#bbb" stroke-width="0.6" fill="none" />
<text transform="translate(543 1190.5) scale(0.85 1)" x="0" y="0" font-size="4.8" fill="#222" text-anchor="middle" font-weight="bold">0.9</text>
<text transform="translate(543 1202) scale(0.74 1)" x="0" y="0" font-size="8.2" fill="#3a3a3a" text-anchor="middle" >SUITE 3</text>
<text transform="translate(543 1210.5) scale(0.72 1)" x="0" y="0" font-size="6.6" fill="#222" text-anchor="middle" stroke="#222" stroke-width="0.15">ÁREA</text>
<text transform="translate(543 1217.5) scale(0.85 1)" x="0" y="0" font-size="6.6" fill="#222" text-anchor="middle" stroke="#222" stroke-width="0.15">15.65m2</text>
<ellipse cx="603" cy="1201" rx="6.5" ry="4.5" fill="none" stroke="#444" stroke-width="0.7"/>
<ellipse cx="634" cy="1201" rx="6.5" ry="4.5" fill="none" stroke="#444" stroke-width="0.7"/>
<rect x="601" y="1211" width="11" height="15" stroke="#383838" stroke-width="0.6" fill="none" />
<rect x="626" y="1211" width="11" height="15" stroke="#383838" stroke-width="0.6" fill="none" />
<circle cx="608" cy="1243" r="3" stroke="#444" stroke-width="0.7" fill="none" />
<circle cx="630" cy="1243" r="3" stroke="#444" stroke-width="0.7" fill="none" />
<path d="M570,1233 H611 M627,1233 H669" stroke="#bbb" stroke-width="0.5" fill="none" />
<text transform="translate(586 1218.5) scale(0.85 1)" x="0" y="0" font-size="4.8" fill="#222" text-anchor="middle" font-weight="bold">0.16</text>
<text transform="translate(586 1230) scale(0.74 1)" x="0" y="0" font-size="8.2" fill="#3a3a3a" text-anchor="middle" >I.S. SUITE</text>
<text transform="translate(586 1238.5) scale(0.72 1)" x="0" y="0" font-size="6.6" fill="#222" text-anchor="middle" stroke="#222" stroke-width="0.15">ÁREA</text>
<text transform="translate(586 1245.5) scale(0.85 1)" x="0" y="0" font-size="6.6" fill="#222" text-anchor="middle" stroke="#222" stroke-width="0.15">2.80m2</text>
<text transform="translate(653 1218.5) scale(0.85 1)" x="0" y="0" font-size="4.8" fill="#222" text-anchor="middle" font-weight="bold">0.15</text>
<text transform="translate(653 1230) scale(0.74 1)" x="0" y="0" font-size="8.2" fill="#3a3a3a" text-anchor="middle" >I.S. SUITE</text>
<text transform="translate(653 1238.5) scale(0.72 1)" x="0" y="0" font-size="6.6" fill="#222" text-anchor="middle" stroke="#222" stroke-width="0.15">ÁREA</text>
<text transform="translate(653 1245.5) scale(0.85 1)" x="0" y="0" font-size="6.6" fill="#222" text-anchor="middle" stroke="#222" stroke-width="0.15">2.80m2</text>
<rect x="704" y="1181" width="65" height="46" stroke="#383838" stroke-width="0.7" fill="none" />
<rect x="753" y="1186" width="11" height="15" stroke="#383838" stroke-width="0.7" fill="none" />
<rect x="753" y="1206" width="11" height="16" stroke="#383838" stroke-width="0.7" fill="none" />
<path d="M740,1182 L749,1227 L745,1227 L736,1183 Z" stroke="#666" stroke-width="0.6" fill="none" />
<rect x="764" y="1165" width="5" height="78" stroke="#999" stroke-width="0.5" fill="none" />
<g transform="translate(687,1252) rotate(-40)">
<path d="M-9.0,9.0 V-1.8 Q-9.0,-9.0 0,-9.0 Q9.0,-9.0 9.0,-1.8 V9.0 Z" stroke="#666" stroke-width="0.7" fill="none" />
<path d="M-6.3,9.0 V-0.9 Q-6.3,-5.94 0,-5.94 Q6.3,-5.94 6.3,-0.9 V9.0" stroke="#888" stroke-width="0.6" fill="none" />
</g>
<text transform="translate(723 1190.5) scale(0.85 1)" x="0" y="0" font-size="4.8" fill="#222" text-anchor="middle" font-weight="bold">0.14</text>
<text transform="translate(723 1202) scale(0.74 1)" x="0" y="0" font-size="8.2" fill="#3a3a3a" text-anchor="middle" >SUITE 2</text>
<text transform="translate(723 1210.5) scale(0.72 1)" x="0" y="0" font-size="6.6" fill="#222" text-anchor="middle" stroke="#222" stroke-width="0.15">ÁREA</text>
<text transform="translate(723 1217.5) scale(0.85 1)" x="0" y="0" font-size="6.6" fill="#222" text-anchor="middle" stroke="#222" stroke-width="0.15">14.15m2</text>
<text transform="translate(590.5 1100.5) scale(0.85 1)" x="0" y="0" font-size="4.8" fill="#222" text-anchor="middle" font-weight="bold">0.8</text>
<text transform="translate(590.5 1112) scale(0.74 1)" x="0" y="0" font-size="8.2" fill="#3a3a3a" text-anchor="middle" >CIRCULAÇÃO</text>
<text transform="translate(590.5 1120.5) scale(0.72 1)" x="0" y="0" font-size="6.6" fill="#222" text-anchor="middle" stroke="#222" stroke-width="0.15">ÁREA</text>
<text transform="translate(590.5 1127.5) scale(0.85 1)" x="0" y="0" font-size="6.6" fill="#222" text-anchor="middle" stroke="#222" stroke-width="0.15">8.60m2</text>
<text x="661" y="1115" font-size="5" fill="#aaa" text-anchor="middle" transform="rotate(-90 661 1115)">1.25</text>
<rect x="598" y="941" width="4" height="68" fill="#111"/>
<rect x="598" y="1005" width="69" height="4" fill="#111"/>
<rect x="663" y="1005" width="4" height="33" fill="#111"/>
<rect x="664" y="1063" width="4" height="32.5" fill="#111"/>
<rect x="598.5" y="1031" width="4.0" height="64.5" fill="#111"/>
<rect x="586" y="1091.5" width="82" height="4.0" fill="#111"/>
<rect x="555.6" y="1031" width="46.4" height="3.8" fill="#111"/>
<rect x="555.6" y="1031" width="3.8" height="64.5" fill="#111"/>
<rect x="555.6" y="1091.5" width="8.4" height="4.0" fill="#111"/>
<rect x="452" y="1135.6" width="4" height="121.4" fill="#111"/>
<rect x="452" y="1135.6" width="135" height="4.4" fill="#111"/>
<rect x="565" y="1135.6" width="4" height="25.4" fill="#111"/>
<rect x="617" y="1135.6" width="4" height="53.9" fill="#111"/>
<rect x="614" y="1135.6" width="61.6" height="4.4" fill="#111"/>
<rect x="669" y="1135.6" width="4" height="25.4" fill="#111"/>
<rect x="703" y="1135.6" width="77.3" height="4.4" fill="#111"/>
<rect x="567" y="1189" width="3.5" height="68.5" fill="#111"/>
<rect x="611" y="1192" width="3.5" height="65.5" fill="#111"/>
<rect x="624" y="1192" width="3.5" height="65.5" fill="#111"/>
<rect x="667" y="1189" width="3.5" height="68.5" fill="#111"/>
<rect x="599.55" y="942.55" width="0.9" height="64.9" fill="#fff"/>
<rect x="599.55" y="1006.55" width="65.9" height="0.9" fill="#fff"/>
<rect x="664.55" y="1006.55" width="0.9" height="29.9" fill="#fff"/>
<rect x="665.55" y="1064.55" width="0.9" height="29.4" fill="#fff"/>
<rect x="600.05" y="1032.55" width="0.9" height="61.4" fill="#fff"/>
<rect x="587.55" y="1093.05" width="78.9" height="0.9" fill="#fff"/>
<rect x="557.15" y="1032.55" width="43.3" height="0.7" fill="#fff"/>
<rect x="557.15" y="1032.55" width="0.7" height="61.4" fill="#fff"/>
<rect x="557.15" y="1093.05" width="5.3" height="0.9" fill="#fff"/>
<rect x="453.55" y="1137.15" width="0.9" height="118.3" fill="#fff"/>
<rect x="453.55" y="1137.15" width="131.9" height="1.3" fill="#fff"/>
<rect x="566.55" y="1137.15" width="0.9" height="22.3" fill="#fff"/>
<rect x="618.55" y="1137.15" width="0.9" height="50.8" fill="#fff"/>
<rect x="615.55" y="1137.15" width="58.5" height="1.3" fill="#fff"/>
<rect x="670.55" y="1137.15" width="0.9" height="22.3" fill="#fff"/>
<rect x="704.55" y="1137.15" width="74.2" height="1.3" fill="#fff"/>
<rect x="568.55" y="1190.55" width="0.4" height="65.4" fill="#fff"/>
<rect x="612.55" y="1193.55" width="0.4" height="62.4" fill="#fff"/>
<rect x="625.55" y="1193.55" width="0.4" height="62.4" fill="#fff"/>
<rect x="668.55" y="1190.55" width="0.4" height="65.4" fill="#fff"/>
<path d="M1041,716.3 L1083,720 L1069,1378 L1014.3,1383.6 L1022,1100 L1028.7,940 Z" fill="#e3ebb2"/>
<path d="M1094,721 L1229,735 L1229,850 L1127,850 L1127,1266 L1083,1266 Z" fill="#e3ebb2"/>
<path d="M1086,1273 L1223,1277 L1222,1378 L1083,1376 Z" fill="#e3ebb2"/>
<path d="M1083,720 L1069,1378" stroke="#222" stroke-width="1.5" fill="none" />
<path d="M1094,721 L1083,1266" stroke="#333" stroke-width="1.0" fill="none" />
<path d="M1127,850 V1266 H1083" stroke="#444" stroke-width="1.0" fill="none" />
<path d="M1082,1271 H1228" stroke="#222" stroke-width="1.3" fill="none" />
<path d="M1086,1273 L1083,1376" stroke="#999" stroke-width="0.6" fill="none" stroke-dasharray="4,3"/>
<path d="M1041,716.3 L1083,720" stroke="#111" stroke-width="4" fill="none" stroke-dasharray="9,16"/>
<path d="M1041,716.3 L1028.7,940 L1022,1100 L1014.3,1383.6 L1225,1390" stroke="#111" stroke-width="4" fill="none" stroke-dasharray="11,16,15,16,15,16,15,16,15,16,15,16,15,16,15,16,15,16,15,16,15,16,15,16,15,16,15,16,15,16,15,16,15,16,15,16,15,16,15,16,15,16,15,16,15,16,15,16,15,16,15,16,15,16"/>
<path d="M1094,721 L1229,735" stroke="#111" stroke-width="4" fill="none" stroke-dasharray="15,17"/>
<path d="M1229,735 V943" stroke="#111" stroke-width="2.4" fill="none" />
<path d="M1234.5,741 V850" stroke="#111" stroke-width="2.4" fill="none" />
<rect x="1127" y="850" width="101" height="93" stroke="#333" stroke-width="1.1" fill="#fff" />
<rect x="1134" y="858" width="87" height="78" stroke="#444" stroke-width="1.3" fill="#fff" />
<path d="M1134,920 H1221" stroke="#888" stroke-width="0.6" fill="none" />
<text transform="translate(1177.4 890) scale(0.72 1)" x="0" y="0" font-size="6.5" fill="#222" text-anchor="middle" stroke="#222" stroke-width="0.15">PISCINA</text>
<text transform="translate(1177.4 899) scale(0.8 1)" x="0" y="0" font-size="6.5" fill="#222" text-anchor="middle" stroke="#222" stroke-width="0.15">9,85m2</text>
<rect x="1229" y="858" width="20" height="85" stroke="#111" stroke-width="2" fill="none" />
<path d="M1249.5,858 V943" stroke="#111" stroke-width="3.5" fill="none" />
<text x="1243" y="900" font-size="5.5" fill="#222" text-anchor="middle" transform="rotate(-90 1243 900)">Área técnica</text>
<text x="1265" y="900" font-size="5" fill="#aaa" text-anchor="middle" transform="rotate(-90 1265 900)">2.70</text>
<path d="M1262,919 H1268 M1265,916 V922" stroke="#333" stroke-width="0.6" fill="none" />
<rect x="1131" y="943" width="97" height="328" fill="#fff"/>
<path d="M1131,943 V1271" stroke="#6a6a6a" stroke-width="0.8" fill="none" />
<path d="M1147,943 V1271" stroke="#6a6a6a" stroke-width="0.8" fill="none" />
<path d="M1166,943 V1271" stroke="#6a6a6a" stroke-width="0.8" fill="none" />
<path d="M1186,943 V1271" stroke="#6a6a6a" stroke-width="0.8" fill="none" />
<path d="M1207,943 V1271" stroke="#6a6a6a" stroke-width="0.8" fill="none" />
<path d="M1131,945.3 H1228" stroke="#6a6a6a" stroke-width="0.8" fill="none" />
<path d="M1131,965.0 H1228" stroke="#6a6a6a" stroke-width="0.8" fill="none" />
<path d="M1131,984.7 H1228" stroke="#6a6a6a" stroke-width="0.8" fill="none" />
<path d="M1131,1004.4 H1228" stroke="#6a6a6a" stroke-width="0.8" fill="none" />
<path d="M1131,1024.1 H1228" stroke="#6a6a6a" stroke-width="0.8" fill="none" />
<path d="M1131,1043.8 H1228" stroke="#6a6a6a" stroke-width="0.8" fill="none" />
<path d="M1131,1063.5 H1228" stroke="#6a6a6a" stroke-width="0.8" fill="none" />
<path d="M1131,1083.2 H1228" stroke="#6a6a6a" stroke-width="0.8" fill="none" />
<path d="M1131,1102.9 H1228" stroke="#6a6a6a" stroke-width="0.8" fill="none" />
<path d="M1131,1122.6 H1228" stroke="#6a6a6a" stroke-width="0.8" fill="none" />
<path d="M1131,1142.3 H1228" stroke="#6a6a6a" stroke-width="0.8" fill="none" />
<path d="M1131,1162.0 H1228" stroke="#6a6a6a" stroke-width="0.8" fill="none" />
<path d="M1131,1181.7 H1228" stroke="#6a6a6a" stroke-width="0.8" fill="none" />
<path d="M1131,1201.4 H1228" stroke="#6a6a6a" stroke-width="0.8" fill="none" />
<path d="M1131,1221.1 H1228" stroke="#6a6a6a" stroke-width="0.8" fill="none" />
<path d="M1131,1240.8 H1228" stroke="#6a6a6a" stroke-width="0.8" fill="none" />
<path d="M1131,1260.5 H1228" stroke="#6a6a6a" stroke-width="0.8" fill="none" />
<rect x="1167" y="950" width="10" height="10" stroke="#111" stroke-width="2.2" fill="#fff" />
<rect x="1167" y="1131" width="10" height="10" stroke="#111" stroke-width="2.2" fill="#fff" />
<g transform="translate(1173,988) rotate(30)">
<path d="M-11.0,11.0 V-2.2 Q-11.0,-11.0 0,-11.0 Q11.0,-11.0 11.0,-2.2 V11.0 Z" stroke="#666" stroke-width="0.7" fill="none" />
<path d="M-7.699999999999999,11.0 V-1.1 Q-7.699999999999999,-7.260000000000001 0,-7.260000000000001 Q7.699999999999999,-7.260000000000001 7.699999999999999,-1.1 V11.0" stroke="#888" stroke-width="0.6" fill="none" />
</g>
<circle cx="1156.3" cy="1016.3" r="12" stroke="#222" stroke-width="1" fill="#fff" />
<g transform="translate(1170,1040) rotate(150)">
<path d="M-11.0,11.0 V-2.2 Q-11.0,-11.0 0,-11.0 Q11.0,-11.0 11.0,-2.2 V11.0 Z" stroke="#666" stroke-width="0.7" fill="none" />
<path d="M-7.699999999999999,11.0 V-1.1 Q-7.699999999999999,-7.260000000000001 0,-7.260000000000001 Q7.699999999999999,-7.260000000000001 7.699999999999999,-1.1 V11.0" stroke="#888" stroke-width="0.6" fill="none" />
</g>
<text transform="translate(1177.5 1065.5) scale(0.85 1)" x="0" y="0" font-size="4.8" fill="#222" text-anchor="middle" font-weight="bold">-1.2</text>
<text transform="translate(1177.5 1077) scale(0.74 1)" x="0" y="0" font-size="8.2" fill="#3a3a3a" text-anchor="middle" >TERRAÇO</text>
<text transform="translate(1177.5 1085.5) scale(0.72 1)" x="0" y="0" font-size="6.6" fill="#222" text-anchor="middle" stroke="#222" stroke-width="0.15">ÁREA</text>
<text transform="translate(1177.5 1092.5) scale(0.85 1)" x="0" y="0" font-size="6.6" fill="#222" text-anchor="middle" stroke="#222" stroke-width="0.15">32.00m2</text>
<path d="M1228,943 H1400 M1429,943 H1442 V938 H1451 V943 H1517" stroke="#111" stroke-width="2.2" fill="none" />
<path d="M1238,953 H1400 M1429,953 H1512" stroke="#111" stroke-width="2.2" fill="none" />
<path d="M1228,943 V977 H1238 V953" stroke="#111" stroke-width="2.2" fill="none" />
<path d="M1229.8,977 V1253 M1233,977 V1253" stroke="#999" stroke-width="0.8" fill="none" />
<path d="M1456,937 H1470" stroke="#aaa" stroke-width="0.6" fill="none" />
<rect x="1228" y="1114" width="10" height="46" stroke="#111" stroke-width="2.2" fill="#fff" />
<path d="M1228,1253 H1238 L1239,1254 H1289 V1271 H1228 Z" stroke="#111" stroke-width="2.2" fill="#fff" />
<path d="M1289,1267.5 H1329 M1289,1270 H1329" stroke="#aaa" stroke-width="0.8" fill="none" />
<path d="M1329,1271 V1254 H1507" stroke="#111" stroke-width="2.2" fill="none" />
<path d="M1517,943 V1071 M1517,1076 V1132 M1517,1135 V1255" stroke="#111" stroke-width="2.5" fill="none" />
<path d="M1400,943 V953 M1429,943 V979 M1400,943 H1429" stroke="#e05a3a" stroke-width="1.5" fill="none" />
<path d="M1400.0,953.0 A29,29 0 0 0 1429.0,982.0" stroke="#e05a3a" stroke-width="1.2" fill="none" />
<rect x="1403" y="948" width="22.5" height="8" stroke="#333" stroke-width="0.7" fill="#fff" />
<text x="1414.25" y="954.5" font-size="6.5" fill="#333" text-anchor="middle" >+18.97</text>
<path d="M1433,954 V1048" stroke="#444" stroke-width="1.5" fill="none" />
<path d="M1434,992 H1509" stroke="#999" stroke-width="0.7" fill="none" />
<path d="M1434,1001 H1509" stroke="#999" stroke-width="0.7" fill="none" />
<path d="M1434,1010 H1509" stroke="#999" stroke-width="0.7" fill="none" />
<path d="M1434,1020 H1509" stroke="#999" stroke-width="0.7" fill="none" />
<path d="M1434,1029 H1509" stroke="#999" stroke-width="0.7" fill="none" />
<path d="M1434,1038 H1509" stroke="#999" stroke-width="0.7" fill="none" />
<path d="M1434,1048 H1509" stroke="#999" stroke-width="0.7" fill="none" />
<path d="M1434,954 L1471,991 L1509,954" stroke="#999" stroke-width="0.6" fill="none" />
<path d="M1452,970 V1048 M1490,970 V1038" stroke="#bbb" stroke-width="0.6" fill="none" />
<rect x="1470.5" y="991" width="2.5" height="47" stroke="#666" stroke-width="0.6" fill="#999" />
<text x="1436" y="997.5" font-size="5" fill="#111" text-anchor="start" font-weight="bold">10</text>
<text x="1436" y="1006.9" font-size="5" fill="#111" text-anchor="start" font-weight="bold">11</text>
<text x="1436" y="1016.3" font-size="5" fill="#111" text-anchor="start" font-weight="bold">12</text>
<text x="1436" y="1025.7" font-size="5" fill="#111" text-anchor="start" font-weight="bold">13</text>
<text x="1436" y="1035.1" font-size="5" fill="#111" text-anchor="start" font-weight="bold">14</text>
<text x="1436" y="1044.5" font-size="5" fill="#111" text-anchor="start" font-weight="bold">15</text>
<text x="1436" y="1053.9" font-size="5" fill="#111" text-anchor="start" font-weight="bold">16</text>
<text x="1508" y="990.0" font-size="5" fill="#111" text-anchor="end" font-weight="bold">6</text>
<text x="1508" y="999.2" font-size="5" fill="#111" text-anchor="end" font-weight="bold">5</text>
<text x="1508" y="1008.4" font-size="5" fill="#111" text-anchor="end" font-weight="bold">4</text>
<text x="1508" y="1017.6" font-size="5" fill="#111" text-anchor="end" font-weight="bold">3</text>
<text x="1508" y="1026.8" font-size="5" fill="#111" text-anchor="end" font-weight="bold">2</text>
<text x="1508" y="1036.0" font-size="5" fill="#111" text-anchor="end" font-weight="bold">1</text>
<path d="M1519,997 V1030" stroke="#aaa" stroke-width="1.2" fill="none" />
<rect x="1519.5" y="1019" width="7.0" height="11" stroke="#888" stroke-width="0.8" fill="none" />
<text x="1437" y="958" font-size="5" fill="#111" text-anchor="start" font-weight="bold">9</text>
<text x="1468" y="958" font-size="5" fill="#111" text-anchor="middle" font-weight="bold">8</text>
<text x="1503" y="958" font-size="5" fill="#111" text-anchor="middle" font-weight="bold">7</text>
<rect x="1477" y="1043" width="13" height="10" stroke="#383838" stroke-width="0.6" fill="none" />
<path d="M1474,1053 H1509" stroke="#999" stroke-width="0.6" fill="none" />
<ellipse cx="1503" cy="1070" rx="6" ry="5" fill="none" stroke="#444" stroke-width="0.7"/>
<text transform="translate(1491.5 1062.5) scale(0.85 1)" x="0" y="0" font-size="4.8" fill="#222" text-anchor="middle" font-weight="bold">-1.6</text>
<text transform="translate(1491.5 1074) scale(0.74 1)" x="0" y="0" font-size="8.2" fill="#3a3a3a" text-anchor="middle" >I.S. SOCIAL</text>
<text transform="translate(1491.5 1082.5) scale(0.72 1)" x="0" y="0" font-size="6.6" fill="#222" text-anchor="middle" stroke="#222" stroke-width="0.15">ÁREA</text>
<text transform="translate(1491.5 1089.5) scale(0.85 1)" x="0" y="0" font-size="6.6" fill="#222" text-anchor="middle" stroke="#222" stroke-width="0.15">1.85m2</text>
<rect x="1436" y="1142" width="74" height="19" stroke="#444" stroke-width="0.9" fill="none" />
<path d="M1436,1151.5 H1510" stroke="#505050" stroke-width="0.6" fill="none" />
<path d="M1438.0,1144 L1439.2,1159" stroke="#383838" stroke-width="0.7" fill="none" />
<path d="M1443.4,1144 L1444.6,1159" stroke="#383838" stroke-width="0.7" fill="none" />
<path d="M1448.8,1144 L1450.0,1159" stroke="#383838" stroke-width="0.7" fill="none" />
<path d="M1454.2,1144 L1455.4,1159" stroke="#383838" stroke-width="0.7" fill="none" />
<path d="M1459.5,1144 L1460.7,1159" stroke="#383838" stroke-width="0.7" fill="none" />
<path d="M1464.9,1144 L1466.1,1159" stroke="#383838" stroke-width="0.7" fill="none" />
<path d="M1470.3,1144 L1471.5,1159" stroke="#383838" stroke-width="0.7" fill="none" />
<path d="M1475.7,1144 L1476.9,1159" stroke="#383838" stroke-width="0.7" fill="none" />
<path d="M1481.1,1144 L1482.3,1159" stroke="#383838" stroke-width="0.7" fill="none" />
<path d="M1486.5,1144 L1487.7,1159" stroke="#383838" stroke-width="0.7" fill="none" />
<path d="M1491.8,1144 L1493.0,1159" stroke="#383838" stroke-width="0.7" fill="none" />
<path d="M1497.2,1144 L1498.4,1159" stroke="#383838" stroke-width="0.7" fill="none" />
<path d="M1502.6,1144 L1503.8,1159" stroke="#383838" stroke-width="0.7" fill="none" />
<path d="M1508.0,1144 L1509.2,1159" stroke="#383838" stroke-width="0.7" fill="none" />
<text transform="translate(1471 1168.5) scale(0.85 1)" x="0" y="0" font-size="4.8" fill="#222" text-anchor="middle" font-weight="bold">-1.3</text>
<text transform="translate(1471 1180) scale(0.74 1)" x="0" y="0" font-size="8.2" fill="#3a3a3a" text-anchor="middle" >CIRCULAÇÃO</text>
<text transform="translate(1471 1188.5) scale(0.72 1)" x="0" y="0" font-size="6.6" fill="#222" text-anchor="middle" stroke="#222" stroke-width="0.15">ÁREA</text>
<text transform="translate(1471 1195.5) scale(0.85 1)" x="0" y="0" font-size="6.6" fill="#222" text-anchor="middle" stroke="#222" stroke-width="0.15">2.00m2</text>
<path d="M1432,1254 H1507" stroke="#111" stroke-width="2.2" fill="none" />
<path d="M1461,1201 V1251" stroke="#999" stroke-width="0.6" fill="none" />
<circle cx="1448" cy="1248" r="3" stroke="#444" stroke-width="0.7" fill="none" />
<ellipse cx="1498" cy="1214" rx="6" ry="4.5" fill="none" stroke="#444" stroke-width="0.8"/>
<ellipse cx="1498" cy="1232" rx="6" ry="4.5" fill="none" stroke="#444" stroke-width="0.8"/>
<rect x="1465" y="1243" width="19" height="10" stroke="#383838" stroke-width="0.6" fill="none" />
<text transform="translate(1474 1211.5) scale(0.85 1)" x="0" y="0" font-size="4.8" fill="#222" text-anchor="middle" font-weight="bold">-1.6</text>
<text transform="translate(1474 1223) scale(0.74 1)" x="0" y="0" font-size="8.2" fill="#3a3a3a" text-anchor="middle" >I.S.</text>
<text transform="translate(1474 1231.5) scale(0.72 1)" x="0" y="0" font-size="6.6" fill="#222" text-anchor="middle" stroke="#222" stroke-width="0.15">ÁREA</text>
<text transform="translate(1474 1238.5) scale(0.85 1)" x="0" y="0" font-size="6.6" fill="#222" text-anchor="middle" stroke="#222" stroke-width="0.15">3.85m2</text>
<rect x="1202" y="1028" width="23" height="8" stroke="#333" stroke-width="0.7" fill="#fff" />
<text x="1213.5" y="1034.5" font-size="6.5" fill="#333" text-anchor="middle" >+20.33</text>
<rect x="1242" y="1029" width="23" height="8" stroke="#333" stroke-width="0.7" fill="#fff" />
<text x="1253.5" y="1035.5" font-size="6.5" fill="#333" text-anchor="middle" >+20.35</text>
<rect x="1202" y="1188" width="23" height="8" stroke="#333" stroke-width="0.7" fill="#fff" />
<text x="1213.5" y="1194.5" font-size="6.5" fill="#333" text-anchor="middle" >+20.33</text>
<rect x="1242" y="1189" width="23" height="8" stroke="#333" stroke-width="0.7" fill="#fff" />
<text x="1253.5" y="1195.5" font-size="6.5" fill="#333" text-anchor="middle" >+20.35</text>
<rect x="1140" y="1256" width="22" height="8" stroke="#333" stroke-width="0.7" fill="#fff" />
<text x="1151.0" y="1262.5" font-size="6.5" fill="#333" text-anchor="middle" >+20.33</text>
<rect x="1140" y="1280" width="22" height="8" stroke="#333" stroke-width="0.7" fill="#fff" />
<text x="1151.0" y="1286.5" font-size="6.5" fill="#333" text-anchor="middle" >+20.33</text>
<text transform="translate(1344 1050.5) scale(0.85 1)" x="0" y="0" font-size="4.8" fill="#222" text-anchor="middle" font-weight="bold">-1.3</text>
<text transform="translate(1344 1062) scale(0.74 1)" x="0" y="0" font-size="8.2" fill="#3a3a3a" text-anchor="middle" >PLAYROOM</text>
<text transform="translate(1344 1070.5) scale(0.72 1)" x="0" y="0" font-size="6.6" fill="#222" text-anchor="middle" stroke="#222" stroke-width="0.15">ÁREA</text>
<text transform="translate(1344 1077.5) scale(0.85 1)" x="0" y="0" font-size="6.6" fill="#222" text-anchor="middle" stroke="#222" stroke-width="0.15">73.20m2</text>
<text transform="translate(1154.5 782.5) scale(0.85 1)" x="0" y="0" font-size="4.8" fill="#222" text-anchor="middle" font-weight="bold">-1.10</text>
<text transform="translate(1154.5 794) scale(0.74 1)" x="0" y="0" font-size="8.2" fill="#3a3a3a" text-anchor="middle" >JARDIM</text>
<text transform="translate(1154.5 802.5) scale(0.72 1)" x="0" y="0" font-size="6.6" fill="#222" text-anchor="middle" stroke="#222" stroke-width="0.15">ÁREA</text>
<text transform="translate(1154.5 809.5) scale(0.85 1)" x="0" y="0" font-size="6.6" fill="#222" text-anchor="middle" stroke="#222" stroke-width="0.15">91.95m2</text>
<path d="M1602,1132 H1570 V1076.5 H1673.5 V1132 H1624" stroke="#111" stroke-width="3" fill="none" />
<path d="M1602.0,1110.0 A22,22 0 0 1 1624.0,1132.0" stroke="#999" stroke-width="0.6" fill="none" />
<path d="M1601.5,1109 V1132" stroke="#999" stroke-width="0.8" fill="none" />
<text transform="translate(1620.5 1091.5) scale(0.85 1)" x="0" y="0" font-size="4.8" fill="#222" text-anchor="middle" font-weight="bold">-1.10</text>
<text transform="translate(1620.5 1103) scale(0.7 1)" x="0" y="0" font-size="8.2" fill="#3a3a3a" text-anchor="middle" >ARRECADAÇÃO A</text>
<text transform="translate(1620.5 1111.5) scale(0.72 1)" x="0" y="0" font-size="6.6" fill="#222" text-anchor="middle" stroke="#222" stroke-width="0.15">ÁREA</text>
<text transform="translate(1620.5 1118.5) scale(0.85 1)" x="0" y="0" font-size="6.6" fill="#222" text-anchor="middle" stroke="#222" stroke-width="0.15">5.85m2</text>
<path d="M1068.4,768.8 A5.0,5.0 0 0 1 1064.7,775.3 A5.0,5.0 0 0 1 1057.8,778.9 A5.0,5.0 0 0 1 1050.3,777.0 A5.0,5.0 0 0 1 1044.3,772.3 A5.0,5.0 0 0 1 1043.0,764.8 A5.0,5.0 0 0 1 1044.7,757.5 A5.0,5.0 0 0 1 1050.4,752.2 A5.0,5.0 0 0 1 1058.1,751.9 A5.0,5.0 0 0 1 1065.2,754.7 A5.0,5.0 0 0 1 1068.5,761.5 A5.0,5.0 0 0 1 1068.4,768.8 Z" stroke="#4a4f38" stroke-width="0.8" fill="none" />
<circle cx="1056" cy="765" r="0.5" stroke="#4a4f38" stroke-width="0.6" fill="none" />
<path d="M1135.4,773.8 A5.0,5.0 0 0 1 1131.7,780.3 A5.0,5.0 0 0 1 1124.8,783.9 A5.0,5.0 0 0 1 1117.3,782.0 A5.0,5.0 0 0 1 1111.3,777.3 A5.0,5.0 0 0 1 1110.0,769.8 A5.0,5.0 0 0 1 1111.7,762.5 A5.0,5.0 0 0 1 1117.4,757.2 A5.0,5.0 0 0 1 1125.1,756.9 A5.0,5.0 0 0 1 1132.2,759.7 A5.0,5.0 0 0 1 1135.5,766.5 A5.0,5.0 0 0 1 1135.4,773.8 Z" stroke="#4a4f38" stroke-width="0.8" fill="none" />
<circle cx="1123" cy="770" r="0.5" stroke="#4a4f38" stroke-width="0.6" fill="none" />
<path d="M1155.8,763.0 A4.0,4.0 0 0 1 1152.8,768.1 A4.0,4.0 0 0 1 1147.4,770.9 A4.0,4.0 0 0 1 1141.5,769.4 A4.0,4.0 0 0 1 1136.8,765.7 A4.0,4.0 0 0 1 1135.8,759.9 A4.0,4.0 0 0 1 1137.2,754.1 A4.0,4.0 0 0 1 1141.6,749.9 A4.0,4.0 0 0 1 1147.6,749.7 A4.0,4.0 0 0 1 1153.2,751.9 A4.0,4.0 0 0 1 1155.9,757.3 A4.0,4.0 0 0 1 1155.8,763.0 Z" stroke="#4a4f38" stroke-width="0.8" fill="none" />
<circle cx="1146" cy="760" r="0.5" stroke="#4a4f38" stroke-width="0.6" fill="none" />
<path d="M1202.4,821.8 A5.0,5.0 0 0 1 1198.7,828.3 A5.0,5.0 0 0 1 1191.8,831.9 A5.0,5.0 0 0 1 1184.3,830.0 A5.0,5.0 0 0 1 1178.3,825.3 A5.0,5.0 0 0 1 1177.0,817.8 A5.0,5.0 0 0 1 1178.7,810.5 A5.0,5.0 0 0 1 1184.4,805.2 A5.0,5.0 0 0 1 1192.1,804.9 A5.0,5.0 0 0 1 1199.2,807.7 A5.0,5.0 0 0 1 1202.5,814.5 A5.0,5.0 0 0 1 1202.4,821.8 Z" stroke="#4a4f38" stroke-width="0.8" fill="none" />
<circle cx="1190" cy="818" r="0.5" stroke="#4a4f38" stroke-width="0.6" fill="none" />
<path d="M1120.4,858.8 A5.0,5.0 0 0 1 1116.7,865.3 A5.0,5.0 0 0 1 1109.8,868.9 A5.0,5.0 0 0 1 1102.3,867.0 A5.0,5.0 0 0 1 1096.3,862.3 A5.0,5.0 0 0 1 1095.0,854.8 A5.0,5.0 0 0 1 1096.7,847.5 A5.0,5.0 0 0 1 1102.4,842.2 A5.0,5.0 0 0 1 1110.1,841.9 A5.0,5.0 0 0 1 1117.2,844.7 A5.0,5.0 0 0 1 1120.5,851.5 A5.0,5.0 0 0 1 1120.4,858.8 Z" stroke="#4a4f38" stroke-width="0.8" fill="none" />
<circle cx="1108" cy="855" r="0.5" stroke="#4a4f38" stroke-width="0.6" fill="none" />
<path d="M1066.4,995.8 A5.0,5.0 0 0 1 1062.7,1002.3 A5.0,5.0 0 0 1 1055.8,1005.9 A5.0,5.0 0 0 1 1048.3,1004.0 A5.0,5.0 0 0 1 1042.3,999.3 A5.0,5.0 0 0 1 1041.0,991.8 A5.0,5.0 0 0 1 1042.7,984.5 A5.0,5.0 0 0 1 1048.4,979.2 A5.0,5.0 0 0 1 1056.1,978.9 A5.0,5.0 0 0 1 1063.2,981.7 A5.0,5.0 0 0 1 1066.5,988.5 A5.0,5.0 0 0 1 1066.4,995.8 Z" stroke="#4a4f38" stroke-width="0.8" fill="none" />
<circle cx="1054" cy="992" r="0.5" stroke="#4a4f38" stroke-width="0.6" fill="none" />
<path d="M1124.4,996.8 A5.0,5.0 0 0 1 1120.7,1003.3 A5.0,5.0 0 0 1 1113.8,1006.9 A5.0,5.0 0 0 1 1106.3,1005.0 A5.0,5.0 0 0 1 1100.3,1000.3 A5.0,5.0 0 0 1 1099.0,992.8 A5.0,5.0 0 0 1 1100.7,985.5 A5.0,5.0 0 0 1 1106.4,980.2 A5.0,5.0 0 0 1 1114.1,979.9 A5.0,5.0 0 0 1 1121.2,982.7 A5.0,5.0 0 0 1 1124.5,989.5 A5.0,5.0 0 0 1 1124.4,996.8 Z" stroke="#4a4f38" stroke-width="0.8" fill="none" />
<circle cx="1112" cy="993" r="0.5" stroke="#4a4f38" stroke-width="0.6" fill="none" />
<path d="M1047.4,1323.8 A5.0,5.0 0 0 1 1043.7,1330.3 A5.0,5.0 0 0 1 1036.8,1333.9 A5.0,5.0 0 0 1 1029.3,1332.0 A5.0,5.0 0 0 1 1023.3,1327.3 A5.0,5.0 0 0 1 1022.0,1319.8 A5.0,5.0 0 0 1 1023.7,1312.5 A5.0,5.0 0 0 1 1029.4,1307.2 A5.0,5.0 0 0 1 1037.1,1306.9 A5.0,5.0 0 0 1 1044.2,1309.7 A5.0,5.0 0 0 1 1047.5,1316.5 A5.0,5.0 0 0 1 1047.4,1323.8 Z" stroke="#4a4f38" stroke-width="0.8" fill="none" />
<circle cx="1035" cy="1320" r="0.5" stroke="#4a4f38" stroke-width="0.6" fill="none" />
<path d="M1045.4,1050.4 A5.0,5.0 0 0 1 1041.7,1056.9 A5.0,5.0 0 0 1 1034.8,1060.5 A5.0,5.0 0 0 1 1027.3,1058.6 A5.0,5.0 0 0 1 1021.3,1053.9 A5.0,5.0 0 0 1 1020.0,1046.4 A5.0,5.0 0 0 1 1021.7,1039.1 A5.0,5.0 0 0 1 1027.4,1033.8 A5.0,5.0 0 0 1 1035.1,1033.5 A5.0,5.0 0 0 1 1042.2,1036.3 A5.0,5.0 0 0 1 1045.5,1043.1 A5.0,5.0 0 0 1 1045.4,1050.4 Z" stroke="#4a4f38" stroke-width="0.8" fill="none" />
<circle cx="1033" cy="1046.6" r="0.5" stroke="#4a4f38" stroke-width="0.6" fill="none" />
<path d="M1065.1,1041.5 A4.1,4.1 0 0 1 1062.0,1046.8 A4.1,4.1 0 0 1 1056.4,1049.7 A4.1,4.1 0 0 1 1050.2,1048.1 A4.1,4.1 0 0 1 1045.3,1044.3 A4.1,4.1 0 0 1 1044.2,1038.1 A4.1,4.1 0 0 1 1045.7,1032.2 A4.1,4.1 0 0 1 1050.3,1027.8 A4.1,4.1 0 0 1 1056.6,1027.5 A4.1,4.1 0 0 1 1062.4,1029.9 A4.1,4.1 0 0 1 1065.2,1035.4 A4.1,4.1 0 0 1 1065.1,1041.5 Z" stroke="#4a4f38" stroke-width="0.8" fill="none" />
<circle cx="1054.9" cy="1038.3" r="0.5" stroke="#4a4f38" stroke-width="0.6" fill="none" />
<path d="M1064.3,1062.9 A4.9,4.9 0 0 1 1060.7,1069.2 A4.9,4.9 0 0 1 1054.0,1072.6 A4.9,4.9 0 0 1 1046.8,1070.8 A4.9,4.9 0 0 1 1041.0,1066.2 A4.9,4.9 0 0 1 1039.7,1059.0 A4.9,4.9 0 0 1 1041.4,1052.0 A4.9,4.9 0 0 1 1046.9,1046.8 A4.9,4.9 0 0 1 1054.3,1046.6 A4.9,4.9 0 0 1 1061.1,1049.3 A4.9,4.9 0 0 1 1064.4,1055.8 A4.9,4.9 0 0 1 1064.3,1062.9 Z" stroke="#4a4f38" stroke-width="0.8" fill="none" />
<circle cx="1052.3" cy="1059.2" r="0.5" stroke="#4a4f38" stroke-width="0.6" fill="none" />
<path d="M1107,948 L1120.6,948.0 M1107,948 L1123.5,952.3 M1107,948 L1123.0,953.8 M1107,948 L1118.2,955.7 M1107,948 L1120.0,958.9 M1107,948 L1116.9,961.9 M1107,948 L1113.8,959.8 M1107,948 L1111.5,964.4 M1107,948 L1110.0,964.7 M1107,948 L1105.9,961.6 M1107,948 L1104.0,964.7 M1107,948 L1099.9,963.5 M1107,948 L1100.2,959.8 M1107,948 L1095.1,960.1 M1107,948 L1094.0,958.9 M1107,948 L1094.7,953.8 M1107,948 L1091.0,953.8 M1107,948 L1090.1,949.6 M1107,948 L1093.4,948.0 M1107,948 L1090.5,943.7 M1107,948 L1091.0,942.2 M1107,948 L1095.8,940.3 M1107,948 L1094.0,937.1 M1107,948 L1097.1,934.1 M1107,948 L1100.2,936.2 M1107,948 L1102.5,931.6 M1107,948 L1104.0,931.3 M1107,948 L1108.1,934.4 M1107,948 L1110.0,931.3 M1107,948 L1114.1,932.5 M1107,948 L1113.8,936.2 M1107,948 L1118.9,935.9 M1107,948 L1120.0,937.1 M1107,948 L1119.3,942.2 M1107,948 L1123.0,942.2 M1107,948 L1123.9,946.4 " stroke="#3e4530" stroke-width="0.55" fill="none" />
<path d="M1048,1209 L1069.6,1209.0 M1048,1209 L1074.1,1215.8 M1048,1209 L1073.4,1218.2 M1048,1209 L1065.8,1221.3 M1048,1209 L1068.7,1226.4 M1048,1209 L1063.6,1231.0 M1048,1209 L1058.8,1227.7 M1048,1209 L1055.2,1235.0 M1048,1209 L1052.7,1235.6 M1048,1209 L1046.3,1230.5 M1048,1209 L1043.3,1235.6 M1048,1209 L1036.8,1233.6 M1048,1209 L1037.2,1227.7 M1048,1209 L1029.0,1228.2 M1048,1209 L1027.3,1226.4 M1048,1209 L1028.5,1218.3 M1048,1209 L1022.6,1218.2 M1048,1209 L1021.1,1211.5 M1048,1209 L1026.4,1209.0 M1048,1209 L1021.9,1202.2 M1048,1209 L1022.6,1199.8 M1048,1209 L1030.2,1196.7 M1048,1209 L1027.3,1191.6 M1048,1209 L1032.4,1187.0 M1048,1209 L1037.2,1190.3 M1048,1209 L1040.8,1183.0 M1048,1209 L1043.3,1182.4 M1048,1209 L1049.7,1187.5 M1048,1209 L1052.7,1182.4 M1048,1209 L1059.2,1184.4 M1048,1209 L1058.8,1190.3 M1048,1209 L1067.0,1189.8 M1048,1209 L1068.7,1191.6 M1048,1209 L1067.5,1199.7 M1048,1209 L1073.4,1199.8 M1048,1209 L1074.9,1206.5 " stroke="#3e4530" stroke-width="0.55" fill="none" />
<path d="M1106,1140 L1120.4,1140.0 M1106,1140 L1123.4,1144.5 M1106,1140 L1122.9,1146.2 M1106,1140 L1117.9,1148.2 M1106,1140 L1119.8,1151.6 M1106,1140 L1116.4,1154.7 M1106,1140 L1113.2,1152.5 M1106,1140 L1110.8,1157.4 M1106,1140 L1109.1,1157.7 M1106,1140 L1104.8,1154.4 M1106,1140 L1102.9,1157.7 M1106,1140 L1098.5,1156.4 M1106,1140 L1098.8,1152.5 M1106,1140 L1093.4,1152.8 M1106,1140 L1092.2,1151.6 M1106,1140 L1093.0,1146.2 M1106,1140 L1089.1,1146.2 M1106,1140 L1088.1,1141.7 M1106,1140 L1091.6,1140.0 M1106,1140 L1088.6,1135.5 M1106,1140 L1089.1,1133.8 M1106,1140 L1094.1,1131.8 M1106,1140 L1092.2,1128.4 M1106,1140 L1095.6,1125.3 M1106,1140 L1098.8,1127.5 M1106,1140 L1101.2,1122.6 M1106,1140 L1102.9,1122.3 M1106,1140 L1107.2,1125.6 M1106,1140 L1109.1,1122.3 M1106,1140 L1113.5,1123.6 M1106,1140 L1113.2,1127.5 M1106,1140 L1118.6,1127.2 M1106,1140 L1119.8,1128.4 M1106,1140 L1119.0,1133.8 M1106,1140 L1122.9,1133.8 M1106,1140 L1123.9,1138.3 " stroke="#3e4530" stroke-width="0.55" fill="none" />
<path d="M1152,1331 L1166.4,1331.0 M1152,1331 L1169.4,1335.5 M1152,1331 L1168.9,1337.2 M1152,1331 L1163.9,1339.2 M1152,1331 L1165.8,1342.6 M1152,1331 L1162.4,1345.7 M1152,1331 L1159.2,1343.5 M1152,1331 L1156.8,1348.4 M1152,1331 L1155.1,1348.7 M1152,1331 L1150.8,1345.4 M1152,1331 L1148.9,1348.7 M1152,1331 L1144.5,1347.4 M1152,1331 L1144.8,1343.5 M1152,1331 L1139.4,1343.8 M1152,1331 L1138.2,1342.6 M1152,1331 L1139.0,1337.2 M1152,1331 L1135.1,1337.2 M1152,1331 L1134.1,1332.7 M1152,1331 L1137.6,1331.0 M1152,1331 L1134.6,1326.5 M1152,1331 L1135.1,1324.8 M1152,1331 L1140.1,1322.8 M1152,1331 L1138.2,1319.4 M1152,1331 L1141.6,1316.3 M1152,1331 L1144.8,1318.5 M1152,1331 L1147.2,1313.6 M1152,1331 L1148.9,1313.3 M1152,1331 L1153.2,1316.6 M1152,1331 L1155.1,1313.3 M1152,1331 L1159.5,1314.6 M1152,1331 L1159.2,1318.5 M1152,1331 L1164.6,1318.2 M1152,1331 L1165.8,1319.4 M1152,1331 L1165.0,1324.8 M1152,1331 L1168.9,1324.8 M1152,1331 L1169.9,1329.3 " stroke="#3e4530" stroke-width="0.55" fill="none" />
<rect x="1509" y="953" width="3.5" height="248.5" fill="#111"/>
<rect x="1469" y="1038" width="4" height="62" fill="#111"/>
<rect x="1469" y="1038" width="43" height="3.5" fill="#111"/>
<rect x="1469" y="1096.5" width="9" height="3.5" fill="#111"/>
<rect x="1498" y="1096.5" width="14" height="3.5" fill="#111"/>
<rect x="1432" y="1137" width="4" height="25" fill="#111"/>
<rect x="1432" y="1137" width="80" height="3.5" fill="#111"/>
<rect x="1432" y="1198" width="4" height="57" fill="#111"/>
<rect x="1432" y="1198" width="32" height="3.5" fill="#111"/>
<rect x="1485" y="1198" width="23.5" height="3.5" fill="#111"/>
<rect x="1505" y="1198" width="3.5" height="57" fill="#111"/>
<rect x="1510.55" y="954.55" width="0.4" height="245.4" fill="#fff"/>
<rect x="1470.55" y="1039.55" width="0.9" height="58.9" fill="#fff"/>
<rect x="1470.55" y="1039.55" width="39.9" height="0.4" fill="#fff"/>
<rect x="1470.55" y="1098.05" width="5.9" height="0.4" fill="#fff"/>
<rect x="1499.55" y="1098.05" width="10.9" height="0.4" fill="#fff"/>
<rect x="1433.55" y="1138.55" width="0.9" height="21.9" fill="#fff"/>
<rect x="1433.55" y="1138.55" width="76.9" height="0.4" fill="#fff"/>
<rect x="1433.55" y="1199.55" width="0.9" height="53.9" fill="#fff"/>
<rect x="1433.55" y="1199.55" width="28.9" height="0.4" fill="#fff"/>
<rect x="1486.55" y="1199.55" width="20.4" height="0.4" fill="#fff"/>
<rect x="1506.55" y="1199.55" width="0.4" height="53.9" fill="#fff"/>
</g></svg>
</body></html>
